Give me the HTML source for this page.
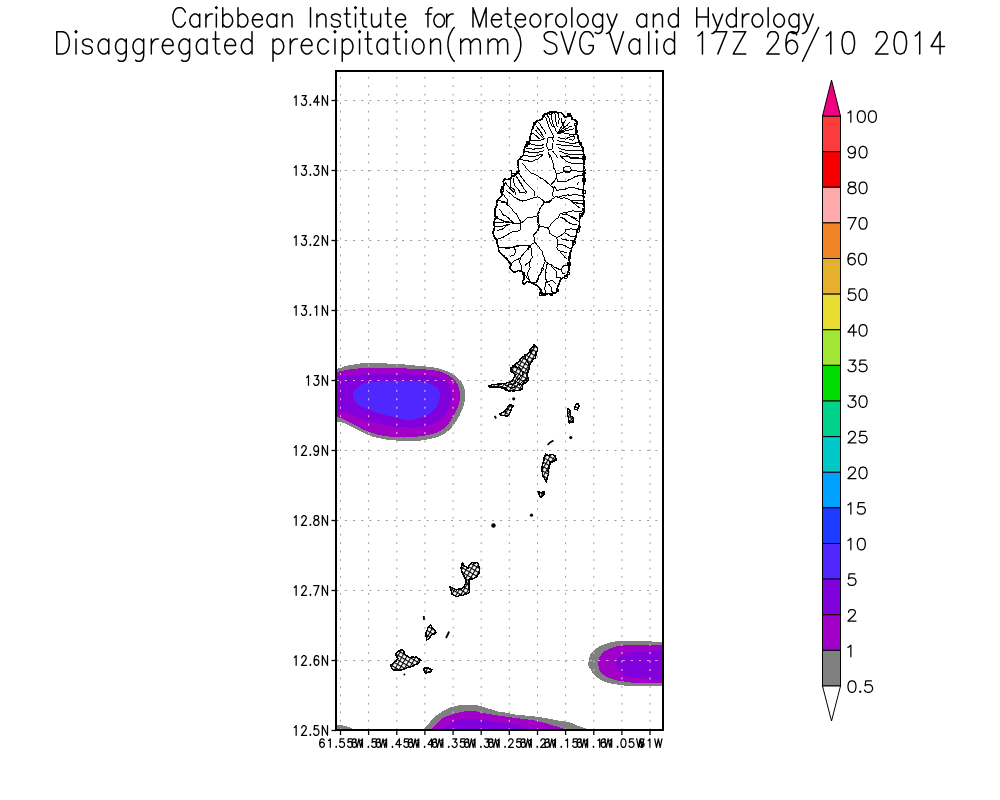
<!DOCTYPE html><html><head><meta charset="utf-8"><style>html,body{margin:0;padding:0;background:#fff;}svg{display:block;}text{font-family:"Liberation Sans",sans-serif;}</style></head><body>
<svg width="1000" height="800" viewBox="0 0 1000 800">
<rect width="1000" height="800" fill="#fff"/>
<defs><clipPath id="fr"><rect x="336" y="71" width="327" height="659"/></clipPath><clipPath id="shd" clip-path="url(#fr)"><path d="M326.0,369.0 C327.8,360.3 333.6,369.5 336.8,369.0 C340.0,368.5 341.9,367.0 345.2,366.2 C348.5,365.4 353.1,364.5 356.5,364.0 C359.9,363.5 360.8,363.2 365.5,363.1 C370.2,363.0 378.6,363.2 384.6,363.4 C390.6,363.6 396.2,363.8 401.5,364.2 C406.8,364.6 411.2,365.2 416.5,365.7 C421.8,366.2 428.7,366.6 433.4,367.4 C438.1,368.1 441.2,369.0 444.6,370.2 C448.0,371.4 451.0,372.9 453.6,374.7 C456.2,376.5 458.6,378.8 460.4,380.9 C462.2,383.0 463.5,385.2 464.3,387.6 C465.1,390.0 465.4,392.9 465.4,395.5 C465.4,398.1 464.9,400.8 464.3,403.4 C463.7,406.0 462.7,408.4 461.5,411.2 C460.3,414.0 458.9,417.2 457.0,420.2 C455.1,423.2 452.6,426.8 450.2,429.2 C447.8,431.6 445.2,433.4 442.4,434.9 C439.6,436.4 437.7,437.2 433.4,438.2 C429.1,439.2 421.8,440.6 416.5,441.0 C411.2,441.4 405.9,441.0 401.5,440.8 C397.1,440.6 393.9,440.4 390.2,440.0 C386.4,439.6 382.8,439.1 379.0,438.2 C375.2,437.3 371.4,436.4 367.7,434.9 C363.9,433.4 360.2,431.1 356.5,429.2 C352.8,427.3 348.5,424.9 345.2,423.6 C341.9,422.3 340.0,421.8 336.8,421.4 C333.6,421.0 327.8,429.7 326.0,421.0 C324.2,412.3 324.2,377.7 326.0,369.0Z"/><path d="M588.0,664.0 L590.0,655.0 L595.0,649.0 L602.0,645.0 L610.0,642.5 L617.0,641.2 L649.0,641.2 L662.0,642.5 L670.0,642.5 L670.0,686.0 L662.0,686.0 L629.0,686.2 L617.0,684.5 L608.0,683.0 L601.0,680.0 L594.0,675.0 L589.0,667.0Z"/><path d="M424.0,731.0 L424.0,729.0 L430.0,722.0 L435.0,716.5 L443.0,711.0 L450.0,707.5 L458.0,705.5 L466.0,704.5 L473.0,704.5 L480.0,706.0 L490.0,709.0 L500.0,712.0 L505.0,712.5 L515.0,714.5 L525.0,715.5 L535.0,716.5 L545.0,718.0 L555.0,720.0 L565.0,721.5 L570.0,722.5 L575.0,724.5 L581.0,727.0 L587.0,729.0 L588.0,731.0Z"/><path d="M336.0,724.5 L340.0,725.0 L345.0,726.0 L350.0,727.5 L354.0,729.5 L354.0,731.0 L336.0,731.0Z"/></clipPath><pattern id="spk" width="4" height="4" patternUnits="userSpaceOnUse" patternTransform="rotate(30)"><rect width="4" height="4" fill="#fff"/><rect x="0" y="0" width="4" height="1.1" fill="#000"/><rect x="0" y="0" width="1.1" height="4" fill="#000"/></pattern></defs>
<g clip-path="url(#fr)" shape-rendering="crispEdges">
<path d="M326.0,369.0 C327.8,360.3 333.6,369.5 336.8,369.0 C340.0,368.5 341.9,367.0 345.2,366.2 C348.5,365.4 353.1,364.5 356.5,364.0 C359.9,363.5 360.8,363.2 365.5,363.1 C370.2,363.0 378.6,363.2 384.6,363.4 C390.6,363.6 396.2,363.8 401.5,364.2 C406.8,364.6 411.2,365.2 416.5,365.7 C421.8,366.2 428.7,366.6 433.4,367.4 C438.1,368.1 441.2,369.0 444.6,370.2 C448.0,371.4 451.0,372.9 453.6,374.7 C456.2,376.5 458.6,378.8 460.4,380.9 C462.2,383.0 463.5,385.2 464.3,387.6 C465.1,390.0 465.4,392.9 465.4,395.5 C465.4,398.1 464.9,400.8 464.3,403.4 C463.7,406.0 462.7,408.4 461.5,411.2 C460.3,414.0 458.9,417.2 457.0,420.2 C455.1,423.2 452.6,426.8 450.2,429.2 C447.8,431.6 445.2,433.4 442.4,434.9 C439.6,436.4 437.7,437.2 433.4,438.2 C429.1,439.2 421.8,440.6 416.5,441.0 C411.2,441.4 405.9,441.0 401.5,440.8 C397.1,440.6 393.9,440.4 390.2,440.0 C386.4,439.6 382.8,439.1 379.0,438.2 C375.2,437.3 371.4,436.4 367.7,434.9 C363.9,433.4 360.2,431.1 356.5,429.2 C352.8,427.3 348.5,424.9 345.2,423.6 C341.9,422.3 340.0,421.8 336.8,421.4 C333.6,421.0 327.8,429.7 326.0,421.0 C324.2,412.3 324.2,377.7 326.0,369.0Z" fill="#808080"/>
<path d="M326.0,372.0 C327.9,364.6 333.2,372.4 337.4,371.9 C341.5,371.4 345.8,369.8 350.9,369.1 C355.9,368.5 362.1,368.2 367.7,368.0 C373.3,367.8 379.0,367.6 384.6,367.6 C390.2,367.7 394.3,368.0 401.5,368.3 C408.7,368.6 421.1,369.0 427.7,369.6 C434.3,370.2 437.4,370.8 441.2,371.9 C444.9,373.0 447.6,374.5 450.2,376.4 C452.8,378.3 455.4,380.5 457.0,383.1 C458.6,385.7 459.3,389.3 459.8,392.1 C460.3,394.9 460.3,397.2 459.8,400.0 C459.3,402.8 458.2,406.0 457.0,409.0 C455.8,412.0 454.4,415.0 452.5,418.0 C450.6,421.0 448.3,424.6 445.7,427.0 C443.1,429.4 440.6,431.1 436.7,432.6 C432.8,434.1 427.4,435.2 422.1,436.0 C416.9,436.8 410.5,437.4 405.2,437.5 C399.9,437.6 394.6,437.0 390.2,436.6 C385.8,436.2 382.8,435.8 379.0,434.9 C375.2,434.0 371.4,433.0 367.7,431.5 C363.9,430.0 360.2,427.8 356.5,425.9 C352.8,424.0 348.4,421.7 345.2,420.2 C342.0,418.7 340.6,417.5 337.4,416.9 C334.2,416.3 327.9,424.0 326.0,416.5 C324.1,409.0 324.1,379.4 326.0,372.0Z" fill="#a000c8"/>
<path d="M326.0,377.0 C328.3,371.2 334.3,376.4 340.0,376.0 C345.7,375.6 351.7,374.8 360.0,374.5 C368.3,374.2 380.0,374.0 390.0,374.0 C400.0,374.0 412.0,374.0 420.0,374.5 C428.0,375.0 433.5,375.8 438.0,377.0 C442.5,378.2 444.8,379.8 447.0,382.0 C449.2,384.2 450.7,387.3 451.5,390.0 C452.3,392.7 452.4,395.0 452.0,398.0 C451.6,401.0 450.5,404.8 449.0,408.0 C447.5,411.2 445.7,414.3 443.0,417.0 C440.3,419.7 437.2,422.2 433.0,424.0 C428.8,425.8 423.5,427.0 418.0,427.5 C412.5,428.0 405.8,427.4 400.0,427.0 C394.2,426.6 388.3,426.0 383.0,425.0 C377.7,424.0 372.7,422.5 368.0,421.0 C363.3,419.5 359.2,417.5 355.0,416.0 C350.8,414.5 347.8,412.8 343.0,412.0 C338.2,411.2 328.8,416.8 326.0,411.0 C323.2,405.2 323.7,382.8 326.0,377.0Z" fill="#8200dc"/>
<path d="M352.6,393.2 C352.6,390.8 354.9,390.2 356.5,388.7 C358.1,387.2 360.1,385.2 362.0,384.2 C363.9,383.2 364.7,383.0 367.7,382.6 C370.7,382.2 375.6,381.8 380.0,381.6 C384.4,381.4 387.3,381.4 394.0,381.4 C400.7,381.4 413.8,380.9 420.0,381.4 C426.2,381.9 428.0,383.0 431.0,384.2 C434.0,385.4 436.4,386.8 437.9,388.7 C439.4,390.6 440.2,392.5 440.0,395.5 C439.8,398.5 438.8,403.5 436.7,406.7 C434.6,409.9 431.1,412.5 427.7,414.6 C424.3,416.7 420.2,418.2 416.5,419.1 C412.8,420.0 409.6,420.2 405.2,419.7 C400.8,419.2 394.6,417.3 390.2,416.3 C385.8,415.3 382.8,414.7 379.0,413.5 C375.2,412.3 371.4,410.7 367.7,409.0 C363.9,407.3 359.0,406.0 356.5,403.4 C354.0,400.8 352.6,395.6 352.6,393.2Z" fill="#5028ff"/>
<path d="M588.0,664.0 L590.0,655.0 L595.0,649.0 L602.0,645.0 L610.0,642.5 L617.0,641.2 L649.0,641.2 L662.0,642.5 L670.0,642.5 L670.0,686.0 L662.0,686.0 L629.0,686.2 L617.0,684.5 L608.0,683.0 L601.0,680.0 L594.0,675.0 L589.0,667.0Z" fill="#808080"/>
<path d="M598.0,664.0 L599.0,658.0 L603.0,652.0 L610.0,648.5 L618.0,646.0 L627.0,645.0 L662.0,645.5 L670.0,645.5 L670.0,682.5 L662.0,682.5 L631.0,682.5 L617.0,680.5 L607.0,677.0 L600.0,672.0Z" fill="#a000c8"/>
<path d="M616.0,665.0 C615.8,662.5 617.0,659.0 619.0,657.0 C621.0,655.0 623.7,653.9 628.0,653.0 C632.3,652.1 638.0,651.8 645.0,651.5 C652.0,651.2 665.8,647.1 670.0,651.5 C674.2,655.9 674.2,673.5 670.0,678.0 C665.8,682.5 652.0,678.7 645.0,678.5 C638.0,678.3 632.2,678.1 628.0,677.0 C623.8,675.9 622.0,674.0 620.0,672.0 C618.0,670.0 616.2,667.5 616.0,665.0Z" fill="#8200dc"/>
<path d="M424.0,731.0 L424.0,729.0 L430.0,722.0 L435.0,716.5 L443.0,711.0 L450.0,707.5 L458.0,705.5 L466.0,704.5 L473.0,704.5 L480.0,706.0 L490.0,709.0 L500.0,712.0 L505.0,712.5 L515.0,714.5 L525.0,715.5 L535.0,716.5 L545.0,718.0 L555.0,720.0 L565.0,721.5 L570.0,722.5 L575.0,724.5 L581.0,727.0 L587.0,729.0 L588.0,731.0Z" fill="#808080"/>
<path d="M432.0,731.0 L432.0,729.0 L437.0,723.0 L443.0,718.0 L450.0,715.0 L459.0,712.5 L467.0,711.0 L475.0,711.0 L483.0,713.0 L495.0,715.0 L505.0,716.5 L515.0,718.0 L525.0,719.0 L535.0,720.5 L545.0,723.0 L555.0,726.0 L565.0,729.0 L566.0,731.0Z" fill="#a000c8"/>
<path d="M444.0,731.0 C429.8,730.0 447.8,726.8 450.0,725.0 C452.2,723.2 453.7,721.6 457.0,720.5 C460.3,719.4 465.3,718.6 470.0,718.5 C474.7,718.4 480.0,719.3 485.0,720.0 C490.0,720.7 495.0,721.8 500.0,722.5 C505.0,723.2 510.3,723.7 515.0,724.5 C519.7,725.3 524.7,726.4 528.0,727.5 C531.3,728.6 549.0,730.4 535.0,731.0 C521.0,731.6 458.2,732.0 444.0,731.0Z" fill="#8200dc"/>
<path d="M336.0,724.5 L340.0,725.0 L345.0,726.0 L350.0,727.5 L354.0,729.5 L354.0,731.0 L336.0,731.0Z" fill="#808080"/>
</g>
<g stroke="#9a9a9a" stroke-width="1" fill="none" clip-path="url(#fr)">
<line x1="340.5" y1="71" x2="340.5" y2="729" stroke-dasharray="1.8 6.66" stroke-dashoffset="-5.9"/>
<line x1="368.6" y1="71" x2="368.6" y2="729" stroke-dasharray="1.8 6.66" stroke-dashoffset="-5.9"/>
<line x1="396.8" y1="71" x2="396.8" y2="729" stroke-dasharray="1.8 6.66" stroke-dashoffset="-5.9"/>
<line x1="424.9" y1="71" x2="424.9" y2="729" stroke-dasharray="1.8 6.66" stroke-dashoffset="-5.9"/>
<line x1="453.1" y1="71" x2="453.1" y2="729" stroke-dasharray="1.8 6.66" stroke-dashoffset="-5.9"/>
<line x1="481.2" y1="71" x2="481.2" y2="729" stroke-dasharray="1.8 6.66" stroke-dashoffset="-5.9"/>
<line x1="509.3" y1="71" x2="509.3" y2="729" stroke-dasharray="1.8 6.66" stroke-dashoffset="-5.9"/>
<line x1="537.5" y1="71" x2="537.5" y2="729" stroke-dasharray="1.8 6.66" stroke-dashoffset="-5.9"/>
<line x1="565.6" y1="71" x2="565.6" y2="729" stroke-dasharray="1.8 6.66" stroke-dashoffset="-5.9"/>
<line x1="593.8" y1="71" x2="593.8" y2="729" stroke-dasharray="1.8 6.66" stroke-dashoffset="-5.9"/>
<line x1="621.9" y1="71" x2="621.9" y2="729" stroke-dasharray="1.8 6.66" stroke-dashoffset="-5.9"/>
<line x1="650.0" y1="71" x2="650.0" y2="729" stroke-dasharray="1.8 6.66" stroke-dashoffset="-5.9"/>
<line x1="336" y1="100.5" x2="662" y2="100.5" stroke-dasharray="2 6.17" stroke-dashoffset="-0.7"/>
<line x1="336" y1="170.5" x2="662" y2="170.5" stroke-dasharray="2 6.17" stroke-dashoffset="-0.7"/>
<line x1="336" y1="240.5" x2="662" y2="240.5" stroke-dasharray="2 6.17" stroke-dashoffset="-0.7"/>
<line x1="336" y1="310.5" x2="662" y2="310.5" stroke-dasharray="2 6.17" stroke-dashoffset="-0.7"/>
<line x1="336" y1="380.5" x2="662" y2="380.5" stroke-dasharray="2 6.17" stroke-dashoffset="-0.7"/>
<line x1="336" y1="450.5" x2="662" y2="450.5" stroke-dasharray="2 6.17" stroke-dashoffset="-0.7"/>
<line x1="336" y1="520.5" x2="662" y2="520.5" stroke-dasharray="2 6.17" stroke-dashoffset="-0.7"/>
<line x1="336" y1="590.5" x2="662" y2="590.5" stroke-dasharray="2 6.17" stroke-dashoffset="-0.7"/>
<line x1="336" y1="660.5" x2="662" y2="660.5" stroke-dasharray="2 6.17" stroke-dashoffset="-0.7"/>
</g>
<g stroke="#e8a0f0" stroke-width="1" fill="none" clip-path="url(#shd)">
<line x1="340.5" y1="71" x2="340.5" y2="729" stroke-dasharray="1.8 6.66" stroke-dashoffset="-5.9"/>
<line x1="368.6" y1="71" x2="368.6" y2="729" stroke-dasharray="1.8 6.66" stroke-dashoffset="-5.9"/>
<line x1="396.8" y1="71" x2="396.8" y2="729" stroke-dasharray="1.8 6.66" stroke-dashoffset="-5.9"/>
<line x1="424.9" y1="71" x2="424.9" y2="729" stroke-dasharray="1.8 6.66" stroke-dashoffset="-5.9"/>
<line x1="453.1" y1="71" x2="453.1" y2="729" stroke-dasharray="1.8 6.66" stroke-dashoffset="-5.9"/>
<line x1="481.2" y1="71" x2="481.2" y2="729" stroke-dasharray="1.8 6.66" stroke-dashoffset="-5.9"/>
<line x1="509.3" y1="71" x2="509.3" y2="729" stroke-dasharray="1.8 6.66" stroke-dashoffset="-5.9"/>
<line x1="537.5" y1="71" x2="537.5" y2="729" stroke-dasharray="1.8 6.66" stroke-dashoffset="-5.9"/>
<line x1="565.6" y1="71" x2="565.6" y2="729" stroke-dasharray="1.8 6.66" stroke-dashoffset="-5.9"/>
<line x1="593.8" y1="71" x2="593.8" y2="729" stroke-dasharray="1.8 6.66" stroke-dashoffset="-5.9"/>
<line x1="621.9" y1="71" x2="621.9" y2="729" stroke-dasharray="1.8 6.66" stroke-dashoffset="-5.9"/>
<line x1="650.0" y1="71" x2="650.0" y2="729" stroke-dasharray="1.8 6.66" stroke-dashoffset="-5.9"/>
<line x1="336" y1="100.5" x2="662" y2="100.5" stroke-dasharray="2 6.17" stroke-dashoffset="-0.7"/>
<line x1="336" y1="170.5" x2="662" y2="170.5" stroke-dasharray="2 6.17" stroke-dashoffset="-0.7"/>
<line x1="336" y1="240.5" x2="662" y2="240.5" stroke-dasharray="2 6.17" stroke-dashoffset="-0.7"/>
<line x1="336" y1="310.5" x2="662" y2="310.5" stroke-dasharray="2 6.17" stroke-dashoffset="-0.7"/>
<line x1="336" y1="380.5" x2="662" y2="380.5" stroke-dasharray="2 6.17" stroke-dashoffset="-0.7"/>
<line x1="336" y1="450.5" x2="662" y2="450.5" stroke-dasharray="2 6.17" stroke-dashoffset="-0.7"/>
<line x1="336" y1="520.5" x2="662" y2="520.5" stroke-dasharray="2 6.17" stroke-dashoffset="-0.7"/>
<line x1="336" y1="590.5" x2="662" y2="590.5" stroke-dasharray="2 6.17" stroke-dashoffset="-0.7"/>
<line x1="336" y1="660.5" x2="662" y2="660.5" stroke-dasharray="2 6.17" stroke-dashoffset="-0.7"/>
</g>
<g fill="none" stroke="#000" stroke-width="1" stroke-linejoin="round">
<g shape-rendering="crispEdges">
<path d="M543.6,114.6 L545.3,114.0 L546.7,113.7 L547.7,113.3 L549.3,112.8 L550.9,112.0 L553.7,111.7 L555.3,111.7 L557.6,112.8 L560.1,112.3 L561.7,113.0 L562.8,114.3 L563.4,115.2 L564.8,116.7 L566.0,117.5 L568.0,116.0 L569.4,114.5 L570.9,115.8 L571.7,117.6 L571.7,119.3 L573.4,119.4 L575.3,120.1 L576.0,121.2 L577.5,122.7 L576.5,124.7 L576.0,127.1 L575.9,129.8 L575.9,131.7 L576.3,133.4 L577.3,134.7 L577.8,135.9 L578.1,137.7 L578.4,139.0 L579.1,140.9 L579.7,142.5 L580.2,144.4 L581.7,146.6 L582.8,147.8 L583.0,150.0 L583.3,151.7 L583.6,153.0 L583.7,155.1 L583.9,156.2 L584.3,158.3 L583.9,159.7 L584.1,161.8 L584.2,163.6 L583.6,164.9 L583.7,166.8 L584.2,167.7 L583.5,169.3 L583.6,171.0 L583.9,172.3 L583.4,173.9 L583.7,175.6 L584.2,177.2 L583.8,178.6 L584.0,179.6 L584.2,181.8 L584.1,183.3 L583.7,184.4 L583.4,186.1 L583.4,187.1 L583.5,188.7 L583.7,190.1 L583.4,191.7 L583.4,193.4 L583.4,195.3 L583.9,196.4 L583.5,198.2 L583.6,199.7 L584.1,202.0 L583.9,203.1 L583.6,204.3 L584.0,206.0 L584.4,207.5 L583.7,209.8 L584.1,210.6 L584.1,212.1 L582.6,214.5 L581.3,215.8 L580.2,217.1 L579.5,219.0 L579.6,220.6 L579.3,221.6 L579.5,223.9 L579.4,225.3 L579.0,226.9 L578.1,228.3 L577.8,229.6 L576.8,231.5 L576.4,233.5 L576.4,235.0 L576.0,237.1 L575.6,238.2 L574.5,239.8 L573.9,241.4 L573.6,243.7 L573.2,245.0 L572.5,246.8 L571.4,248.3 L571.5,249.9 L570.8,251.2 L570.0,253.1 L569.8,254.6 L570.1,255.8 L569.3,257.9 L569.6,258.8 L569.1,260.3 L569.8,262.5 L569.1,264.0 L569.7,265.5 L568.9,266.9 L568.6,268.0 L569.2,270.1 L568.1,272.0 L567.4,273.5 L567.2,274.4 L566.0,276.1 L564.3,277.2 L562.7,277.8 L560.9,279.1 L560.2,280.6 L559.5,282.9 L558.7,284.5 L558.1,285.9 L557.5,287.1 L557.2,288.9 L556.7,291.1 L556.6,292.5 L555.4,293.0 L553.4,293.3 L551.9,294.0 L550.0,293.8 L548.6,293.5 L547.6,293.8 L545.9,294.0 L544.7,293.7 L542.9,293.8 L541.3,293.9 L541.2,291.9 L541.2,290.4 L540.2,289.1 L539.1,287.3 L537.6,286.6 L536.6,285.1 L534.7,284.5 L533.4,283.5 L531.5,283.0 L530.3,282.3 L527.2,281.4 L526.4,281.8 L525.3,283.3 L523.5,284.2 L522.4,281.2 L523.9,279.7 L524.1,277.4 L524.1,275.5 L523.5,273.6 L522.7,272.1 L521.3,271.2 L518.3,270.4 L517.0,271.3 L514.6,272.3 L513.7,271.7 L511.5,270.4 L510.5,269.0 L509.8,266.6 L510.6,265.7 L511.5,263.5 L509.7,262.9 L508.8,261.4 L507.1,259.3 L506.4,258.0 L504.6,257.3 L503.9,255.9 L502.1,254.7 L500.9,253.7 L500.0,252.2 L498.8,251.6 L498.5,249.0 L498.8,247.3 L497.8,245.3 L497.1,243.5 L497.0,242.0 L497.1,240.4 L495.7,238.8 L494.3,237.1 L493.5,235.2 L493.3,233.8 L493.1,231.9 L494.1,229.6 L494.4,228.1 L494.4,226.6 L494.0,224.4 L493.9,222.9 L494.2,221.1 L495.2,219.3 L495.5,217.4 L495.0,215.5 L494.8,214.4 L494.8,212.2 L494.6,210.6 L495.3,208.3 L496.7,206.0 L496.7,204.7 L496.6,203.1 L496.8,202.0 L497.4,200.0 L498.0,199.6 L499.3,198.2 L500.3,197.4 L501.7,195.6 L502.3,193.8 L501.9,192.0 L501.6,190.5 L501.9,188.6 L502.4,187.3 L503.3,186.0 L504.1,184.5 L503.8,183.2 L503.2,181.1 L504.9,179.1 L506.3,179.5 L507.2,179.7 L509.5,178.9 L511.0,178.4 L511.7,176.9 L513.3,175.9 L514.8,175.1 L515.8,174.3 L517.2,173.3 L518.0,171.8 L519.2,171.1 L518.5,169.7 L518.3,167.6 L518.4,166.1 L518.2,164.0 L518.2,163.0 L517.6,161.3 L519.0,159.6 L520.3,158.5 L521.2,156.9 L523.3,155.2 L523.6,154.1 L523.7,151.6 L524.1,150.0 L524.6,148.1 L525.5,146.4 L525.9,145.3 L527.4,144.1 L528.2,142.6 L528.7,141.5 L530.2,140.7 L530.2,138.8 L530.0,137.4 L530.6,134.6 L531.3,133.1 L531.7,132.1 L531.4,130.1 L532.8,129.0 L533.1,126.8 L533.5,125.9 L534.7,123.7 L535.6,122.4 L537.3,120.8 L538.7,120.4 L540.3,119.8 L542.3,119.0 L543.1,116.3Z" stroke-width="1.7"/>
<path d="M538.4,122.4 L539.8,123.8 L540.7,125.4 L541.9,127.2 L542.7,129.0 L544.4,130.4 L545.5,132.6 L546.2,134.2"/>
<path d="M536.5,126.0 L537.4,127.7 L539.1,129.4 L539.9,130.9 L540.9,132.3 L541.9,134.4 L543.1,136.1 L544.4,137.4"/>
<path d="M534.8,129.7 L536.6,131.2 L538.0,133.3 L540.0,134.8 L541.3,136.4 L542.6,137.6 L543.5,138.7 L544.4,140.5"/>
<path d="M532.7,133.0 L534.2,134.4 L535.4,135.2 L537.3,136.5 L538.5,137.9 L540.0,139.2"/>
<path d="M529.9,140.7 L532.3,140.3 L534.1,140.4 L536.0,140.4 L537.8,140.3 L539.8,140.8 L542.5,139.4 L545.0,138.6"/>
<path d="M528.4,143.9 L529.8,143.7 L531.4,144.1 L533.3,144.5 L535.0,145.0 L536.9,145.8 L539.4,145.2 L541.4,145.1 L543.8,144.9"/>
<path d="M524.9,147.9 L526.9,148.2 L529.7,148.4 L531.6,149.0 L534.0,149.1 L535.7,148.8 L537.9,148.7 L540.5,148.7 L542.5,147.9 L544.4,148.0"/>
<path d="M524.1,151.9 L526.5,152.0 L528.2,151.9 L529.9,152.8 L532.1,153.0 L534.1,152.8 L535.3,152.3 L537.3,152.3 L539.4,151.9 L541.0,151.5 L542.6,151.0 L544.4,150.5"/>
<path d="M522.8,155.7 L525.0,156.0 L527.5,155.9 L529.2,156.1 L531.7,156.6 L533.5,156.4 L535.5,156.3 L537.2,155.6 L539.1,154.9 L540.6,154.7 L542.5,154.2"/>
<path d="M548.4,137.5 L550.6,137.7 L552.3,137.8 L553.1,140.6 L553.0,142.7 L552.9,145.0 L552.6,146.6 L552.6,148.9 L550.4,149.2 L548.6,150.4 L548.0,148.6 L547.3,147.3 L546.3,145.3 L547.2,142.9 L547.7,140.3 L548.1,137.4"/>
<path d="M544.2,115.1 L545.1,117.1 L546.1,118.4 L546.7,120.4 L547.8,122.8 L548.2,124.5 L549.0,126.9 L549.7,128.3 L550.5,130.4 L551.9,132.6 L552.7,134.6 L553.8,137.4"/>
<path d="M547.8,113.5 L547.9,116.2 L548.9,117.9 L549.5,120.4 L550.3,122.5 L551.2,124.3 L552.5,126.8"/>
<path d="M551.1,112.9 L551.7,114.6 L551.9,116.5 L551.6,118.9 L552.1,120.5 L552.4,122.5 L553.4,124.8 L554.0,126.5 L555.3,128.3 L555.8,130.7 L556.9,132.0 L557.5,134.2"/>
<path d="M554.7,112.7 L555.4,115.0 L555.5,117.7 L555.3,119.4 L555.9,121.8 L556.4,124.4 L557.5,126.8"/>
<path d="M558.6,113.4 L558.4,115.8 L559.0,117.7 L559.1,119.3 L558.6,121.6 L558.8,123.6"/>
<path d="M562.2,117.7 L561.2,120.3 L562.0,122.6 L563.2,124.4 L563.8,126.8"/>
<path d="M557.7,133.2 L558.7,131.6 L559.6,129.8 L560.4,128.2 L561.7,126.5 L562.4,125.4 L563.4,123.3 L564.3,122.1 L565.6,120.5"/>
<path d="M557.4,133.3 L559.2,132.2 L560.1,130.4 L561.4,129.5 L563.2,128.3 L564.3,127.1 L565.9,126.1 L567.4,125.0 L568.7,123.3 L570.0,122.4"/>
<path d="M558.2,132.9 L559.7,132.1 L561.4,131.1 L562.7,130.3 L564.2,129.9 L566.1,128.7 L567.6,128.3 L569.3,127.0 L571.1,126.4 L572.5,125.5"/>
<path d="M558.3,133.2 L559.7,133.2 L561.7,132.7 L562.9,131.7 L564.7,131.1 L567.1,130.8 L568.8,130.1 L570.5,129.7 L571.8,129.3 L573.8,128.6"/>
<path d="M558.4,132.7 L560.1,133.1 L561.7,132.9 L563.5,132.8 L565.7,133.5 L568.0,133.6 L569.7,134.1 L572.0,134.2 L573.6,134.5 L575.6,134.9"/>
<path d="M557.7,137.4 L559.2,137.6 L561.5,138.4 L563.7,138.5 L565.4,139.4 L567.4,138.0 L569.2,137.5 L571.1,136.1 L573.0,136.2 L575.0,136.5"/>
<path d="M569.3,135.3 L571.9,134.3 L573.7,135.8 L574.7,137.8 L572.9,140.2 L570.9,139.8 L569.0,139.0"/>
<path d="M557.5,140.3 L559.2,141.0 L561.8,141.6 L563.5,141.8 L565.7,142.2 L567.7,142.4 L570.0,143.3 L571.9,143.0 L574.6,143.3 L576.4,142.7 L578.8,143.0"/>
<path d="M555.9,144.6 L557.6,144.2 L559.9,144.7 L561.9,145.1 L563.8,145.0 L565.8,145.3 L567.3,145.9 L569.4,145.6 L570.8,145.9 L572.8,146.0 L574.3,146.1 L576.6,146.7 L577.9,146.6 L580.0,146.8"/>
<path d="M557.7,147.7 L559.6,148.2 L561.3,149.0 L563.2,149.4 L565.0,150.1 L566.8,150.6 L568.8,150.5 L570.5,150.6 L572.7,150.3 L574.9,150.7 L576.6,150.3 L578.6,150.2 L580.3,150.5 L582.5,150.5"/>
<path d="M559.1,151.7 L561.3,151.9 L563.2,152.5 L565.2,153.4 L566.9,153.4 L568.8,154.2 L571.1,154.0 L573.1,154.6 L575.1,154.5 L576.7,154.6 L579.0,154.6 L581.3,154.0 L583.1,154.2"/>
<path d="M561.5,157.1 L562.9,156.8 L565.4,156.7 L567.5,156.9 L569.4,156.9 L571.1,157.6 L572.9,157.2 L575.1,157.4 L576.7,157.5 L578.8,158.1 L581.1,158.2 L583.0,158.1"/>
<path d="M552.3,150.7 L553.5,152.3 L555.1,153.9 L556.5,156.0 L557.5,158.0"/>
<path d="M548.8,152.0 L548.9,154.2 L549.7,155.8 L550.0,158.0"/>
<path d="M550.1,154.8 L551.1,157.1 L551.5,159.4 L552.4,161.0 L553.0,163.0 L553.4,165.2 L553.7,167.8 L554.5,169.3 L555.1,170.5 L555.8,172.3 L556.8,175.0 L556.1,177.8 L555.2,179.8 L554.4,181.1 L552.7,182.7 L551.5,184.1 L550.3,185.7 L553.1,187.3 L553.4,189.4 L553.3,191.6 L552.2,193.5 L553.0,195.7 L554.5,197.7 L552.5,198.6 L550.6,200.1 L549.3,201.1 L546.9,201.8 L544.6,202.7 L543.3,204.0 L541.6,205.9 L540.3,207.9 L539.3,210.2 L538.4,211.9 L538.2,213.5 L536.9,216.2"/>
<path d="M521.8,162.6 L523.3,164.2 L524.7,165.4 L525.6,167.0 L526.7,169.0 L529.1,170.8 L530.4,172.7 L532.7,173.4 L534.5,174.3 L536.0,175.0 L537.8,175.9 L539.4,177.4 L541.3,178.4 L542.8,178.9 L544.3,180.0 L546.0,181.4 L547.2,182.9 L549.3,184.0 L550.5,185.6"/>
<path d="M520.3,159.1 L521.6,159.5 L523.8,160.3 L525.5,160.2 L527.4,160.5 L528.8,161.2 L530.8,161.4 L532.7,161.0 L534.4,160.2 L536.3,159.6 L538.0,158.9 L539.7,157.4 L541.1,156.3 L543.0,155.0"/>
<path d="M518.0,172.8 L519.3,173.9 L520.5,176.3 L521.9,177.5 L522.9,179.2 L524.6,181.3 L526.3,183.1 L527.5,184.6 L529.4,186.5 L531.4,188.2 L532.5,189.8 L534.8,191.6 L534.2,193.5 L534.5,196.2"/>
<path d="M515.5,175.3 L517.1,177.5 L518.0,179.3 L519.1,180.6 L519.8,182.2 L521.4,184.0 L522.2,185.9 L523.2,187.6 L524.5,189.7 L525.7,191.1 L527.0,193.1"/>
<path d="M513.6,178.1 L514.0,180.2 L513.8,182.1 L514.6,184.4 L515.0,186.4 L516.4,187.6 L517.9,189.1 L519.1,190.7 L519.8,192.3 L522.4,193.0 L524.0,192.9 L526.4,193.1"/>
<path d="M510.7,179.0 L510.5,180.9 L510.6,183.4 L510.6,185.6 L510.6,187.3 L513.1,188.7 L514.8,190.1 L515.1,192.7 L515.8,195.0"/>
<path d="M504.6,181.5 L505.6,182.8 L506.5,184.5 L507.9,186.0 L509.4,187.5 L510.5,189.2 L512.6,190.9 L513.9,192.5"/>
<path d="M505.7,190.3 L507.2,191.2 L509.0,192.7 L510.7,193.9 L512.1,194.9 L513.5,196.5 L515.5,197.7 L516.8,198.7 L518.9,199.6 L520.1,200.4 L522.3,201.1 L523.7,200.6 L526.1,200.4 L527.7,199.4 L529.7,199.0 L531.8,198.3 L533.7,197.8 L536.1,197.7 L537.7,196.6 L539.3,197.6 L541.5,199.3 L542.9,200.4 L544.2,201.9"/>
<path d="M501.8,192.6 L502.8,193.8 L504.2,195.2 L505.3,197.2 L506.6,198.5 L507.7,200.0 L507.0,202.6 L507.0,205.0"/>
<path d="M496.9,200.2 L499.3,200.5 L501.1,201.2 L502.9,201.3 L505.2,202.3 L507.0,202.5"/>
<path d="M510.9,170.1 L511.6,172.6 L512.0,175.0"/>
<path d="M560.0,155.0 L561.3,156.7 L562.7,158.1 L564.7,159.8 L566.2,161.1 L568.2,162.1 L570.6,163.0 L572.7,163.4 L574.4,163.2 L576.9,163.0 L578.8,163.4 L580.6,163.1 L583.0,163.1"/>
<path d="M565.9,155.2 L568.6,156.6 L570.2,158.2 L572.6,158.3 L574.7,158.2 L577.0,158.1 L578.8,158.4 L580.7,158.2 L583.0,158.1"/>
<path d="M564.2,167.1 L566.5,166.9 L569.1,165.9 L570.3,167.8 L571.4,169.3 L570.8,171.1 L569.8,172.3 L567.2,172.7 L565.2,172.5 L563.4,169.6 L564.2,166.9"/>
<path d="M556.7,173.5 L558.6,173.3 L561.1,172.6 L563.0,171.9 L564.8,172.0 L566.9,171.5 L569.2,171.3 L571.0,170.7 L573.0,170.3 L575.2,170.8 L577.2,171.0 L578.9,171.2 L580.9,171.4 L583.0,171.9"/>
<path d="M555.8,175.8 L556.6,177.3 L557.2,179.4 L557.9,181.3 L560.1,181.2 L562.4,181.5 L563.8,181.5 L566.4,181.4 L567.6,180.7 L569.6,179.3 L570.9,179.2 L573.1,177.9 L574.6,177.0 L576.5,176.6 L578.5,175.4 L581.1,175.8 L583.0,175.6"/>
<path d="M554.0,186.5 L555.6,188.3 L556.9,190.3 L558.8,190.1 L560.3,189.8 L562.4,189.7 L564.2,189.7 L566.4,188.6 L568.2,187.9 L570.5,187.2 L572.6,187.5 L574.7,187.9 L576.8,188.4 L578.5,189.0 L580.9,189.4 L583.0,190.0"/>
<path d="M578.7,182.1 L577.6,183.7 L576.8,185.6"/>
<path d="M554.6,196.0 L556.5,196.2 L558.3,196.0 L560.9,196.1 L562.9,195.9 L565.1,195.4 L567.4,194.9 L569.4,195.1 L571.2,195.1 L573.3,194.6 L575.5,194.6 L577.2,194.8 L579.2,195.4 L581.4,195.6 L583.0,196.2"/>
<path d="M557.0,197.4 L558.6,197.5 L560.5,198.1 L562.5,198.1 L564.1,197.9 L566.0,198.2 L567.9,199.1 L569.2,199.8 L571.5,200.5 L572.7,201.1 L574.7,200.8 L577.3,200.8 L579.1,200.7 L581.3,200.3 L583.0,200.0"/>
<path d="M573.1,202.6 L575.1,202.9 L577.1,203.1 L579.1,203.6 L581.2,203.7 L583.0,204.4"/>
<path d="M543.3,202.2 L546.2,202.8 L548.6,202.4 L550.6,201.5 L552.2,200.0"/>
<path d="M570.4,199.8 L571.7,201.2 L573.2,202.5 L574.8,204.1 L576.1,205.2 L577.8,206.4 L579.8,208.1"/>
<path d="M573.7,202.6 L575.8,202.7 L577.2,202.9 L579.6,203.6 L581.8,203.5 L583.5,203.8"/>
<path d="M501.2,202.2 L503.2,202.5 L504.8,202.6 L506.6,203.2 L507.5,200.0"/>
<path d="M506.6,204.1 L507.9,205.4 L509.1,206.2 L510.8,207.8 L512.1,209.2 L513.0,211.1 L514.8,212.7 L516.3,213.8 L517.6,215.7 L518.4,217.8 L519.2,219.7 L520.5,220.9 L521.2,223.1"/>
<path d="M499.1,209.5 L501.1,211.0 L502.2,213.3 L503.5,215.3 L505.4,215.7 L507.0,217.1 L508.7,218.2 L510.2,220.0 L512.0,221.5 L513.8,223.1"/>
<path d="M496.3,217.4 L497.8,218.5 L499.9,219.4 L501.3,219.9 L503.4,221.0 L506.4,221.5 L507.9,221.8 L510.1,222.5 L511.6,222.6 L513.2,223.5 L514.9,223.9 L517.2,223.8 L519.4,223.2 L521.2,223.1"/>
<path d="M493.4,222.3 L495.9,222.4 L498.3,222.5 L500.0,222.3 L502.7,222.2 L504.4,221.9 L506.4,222.5 L508.0,222.5"/>
<path d="M494.5,226.5 L496.3,226.0 L498.5,226.5 L500.3,226.4 L502.8,226.1 L504.6,225.7 L506.5,224.8 L508.4,224.6 L510.6,223.8"/>
<path d="M496.5,231.2 L498.0,230.6 L500.6,229.4 L502.6,229.0 L504.4,227.5 L505.8,226.3 L507.5,225.0"/>
<path d="M497.3,239.2 L499.3,238.8 L501.5,237.9 L503.5,237.0 L505.4,235.9 L507.6,234.9 L508.7,233.8 L510.8,232.3 L512.5,232.0 L514.4,231.4 L515.9,231.7 L518.4,231.0 L520.0,230.4 L520.4,228.3 L520.7,226.2 L520.6,223.8"/>
<path d="M521.5,223.4 L523.0,221.5 L524.8,220.4 L527.2,217.8 L529.4,218.0 L531.2,217.7 L533.4,216.7 L535.1,216.5 L536.6,216.6 L538.0,214.1 L539.4,211.9"/>
<path d="M537.0,216.6 L537.3,218.4 L537.5,220.4 L538.1,223.2 L537.9,224.7 L538.3,227.1 L539.0,229.7 L537.3,230.7 L535.6,232.9 L533.9,234.7 L533.8,236.2 L534.6,238.8 L534.8,240.3 L535.1,242.7 L537.2,244.9 L538.3,246.2 L539.5,247.8 L540.3,249.3 L541.6,250.7 L542.7,252.3 L542.8,254.7 L543.6,256.6 L544.6,258.4 L544.7,260.0 L546.0,261.9 L547.7,263.2 L546.8,264.9 L546.5,266.9 L546.2,268.5 L545.8,270.3 L546.0,272.5 L545.5,274.6 L545.4,276.2 L545.6,278.2 L546.3,280.3 L546.0,282.5 L545.7,284.9 L545.1,287.0 L544.7,289.0 L545.4,291.0 L545.6,293.8"/>
<path d="M535.0,242.4 L532.6,243.5 L530.5,245.3 L529.1,245.4 L526.6,245.1 L525.3,245.1 L523.3,245.3 L521.6,245.3 L519.4,245.7 L516.8,245.7 L515.2,246.3 L512.7,247.0 L511.1,247.7 L508.8,248.5 L506.7,248.7 L505.2,248.0 L502.8,247.7 L501.3,247.7 L499.4,247.5"/>
<path d="M530.4,244.8 L529.6,246.8 L528.8,248.4 L527.5,250.0"/>
<path d="M537.7,213.4 L538.2,215.7 L538.4,217.5 L538.6,219.7 L538.7,222.2 L539.1,224.1 L540.0,226.9 L538.8,228.6 L537.0,230.9 L536.0,232.5"/>
<path d="M539.7,226.7 L542.2,226.3 L544.0,226.9 L546.4,227.5 L548.2,228.3 L549.3,230.9 L549.6,233.2 L551.4,234.4 L552.9,235.6 L555.2,236.4 L556.6,237.5 L557.3,240.3 L557.6,242.3 L557.0,244.1 L557.1,246.5 L556.9,247.8 L557.4,249.8 L558.9,250.7 L561.3,251.3 L563.5,251.6 L565.7,252.6 L567.5,253.1"/>
<path d="M548.2,227.8 L549.7,226.4 L550.8,224.4 L552.2,222.7 L553.6,221.5 L554.9,220.1 L557.0,218.5 L558.7,217.8 L559.0,215.6 L560.0,213.8 L561.6,213.6 L563.7,212.8 L565.2,212.4 L567.6,212.2 L570.2,211.5 L572.5,210.8 L573.8,210.9 L576.3,211.6 L577.7,211.5 L579.8,211.8 L581.6,211.9 L583.5,212.5"/>
<path d="M559.7,216.9 L561.6,217.6 L564.4,218.9 L565.8,220.1 L567.1,221.5 L568.6,222.2 L569.8,223.6 L572.2,224.0 L574.3,224.9 L576.6,225.0"/>
<path d="M562.3,214.2 L564.3,214.6 L566.7,214.7 L568.4,215.1 L570.3,216.0 L572.9,216.9 L574.4,217.8 L576.6,218.8"/>
<path d="M566.0,213.5 L567.3,214.4 L569.0,215.6 L570.5,216.4 L572.0,217.5 L574.1,218.5 L575.4,219.5 L576.7,220.5 L578.5,221.2"/>
<path d="M556.6,237.5 L558.9,236.5 L560.9,235.4 L562.7,234.1 L564.7,232.6 L565.7,229.9 L568.8,229.2 L571.0,228.7 L572.7,229.5 L574.6,229.8 L576.6,230.0"/>
<path d="M564.5,232.8 L567.1,234.1 L568.6,235.1 L571.0,236.4 L572.6,236.4 L574.8,236.9"/>
<path d="M561.3,238.9 L562.8,239.1 L565.1,239.7 L567.3,240.2 L569.6,240.0 L571.6,240.2 L573.5,240.0"/>
<path d="M557.4,244.4 L559.9,244.8 L562.5,244.7 L564.6,245.5 L566.6,246.7 L568.5,247.8 L571.6,248.8"/>
<path d="M498.8,247.4 L500.8,247.8 L502.6,247.4 L504.4,247.5 L506.4,247.4 L508.1,247.5 L509.9,247.4 L512.1,247.7 L513.7,247.5 L516.0,246.7 L518.8,246.2"/>
<path d="M513.5,247.6 L514.7,249.1 L515.9,251.1 L514.9,253.4 L514.1,254.8 L511.8,255.9 L510.0,256.2"/>
<path d="M529.1,245.9 L528.2,247.8 L527.2,249.6 L525.7,251.3 L524.4,252.5 L523.1,254.3 L521.4,256.3 L519.9,258.4 L518.0,259.2 L515.6,260.1 L513.7,261.3 L511.2,263.8"/>
<path d="M520.1,258.4 L520.0,260.3 L519.4,262.6 L520.7,263.9 L521.3,265.8 L521.2,267.4 L522.0,269.6 L521.9,271.2"/>
<path d="M530.6,246.0 L531.2,248.9 L531.5,251.6 L531.9,253.3 L531.8,255.3 L532.5,257.5 L531.0,259.2 L530.1,261.3 L528.2,263.0 L526.8,263.8 L525.0,265.6"/>
<path d="M529.9,261.5 L529.9,263.5 L529.7,265.3 L530.2,267.6 L529.3,269.4 L528.3,271.7 L527.3,273.9 L528.2,276.4 L528.8,278.3 L529.4,280.6"/>
<path d="M543.5,268.5 L542.9,270.0 L541.5,271.5 L540.8,273.5 L539.8,275.0 L538.4,275.9 L538.3,278.6 L537.7,281.1 L535.4,282.3 L533.8,283.8"/>
<path d="M524.1,274.0 L525.5,275.2 L526.5,276.8 L527.4,278.7 L528.8,280.0"/>
<path d="M547.6,263.4 L549.3,264.1 L551.1,264.7 L553.2,266.3 L554.5,267.3 L556.5,268.0 L558.8,269.1 L561.2,269.7 L562.3,267.4 L563.9,265.4 L565.5,265.6 L567.5,265.0"/>
<path d="M550.6,265.8 L551.8,266.9 L553.3,268.5 L555.2,270.2 L556.3,271.6 L556.5,273.7 L556.6,275.3 L556.6,277.7 L559.0,277.3 L561.2,277.5"/>
<path d="M544.8,261.7 L544.1,263.4 L543.6,265.5 L542.5,267.7 L541.7,269.2 L541.5,271.0 L540.3,273.4 L539.6,274.8 L538.3,277.0 L537.4,279.1 L536.7,280.9 L536.3,282.3 L534.1,282.2 L532.2,282.3 L530.0,282.5"/>
<path d="M546.5,282.6 L548.0,281.7 L550.1,281.0 L552.2,280.3 L554.1,282.2 L556.2,283.8"/>
<path d="M548.6,283.9 L549.7,285.5 L550.9,287.0 L551.8,288.5 L552.0,291.5 L552.5,293.8"/>
<path d="M559.9,251.4 L561.0,252.9 L562.4,254.4 L563.6,255.6 L564.9,257.3 L567.5,259.4"/>
<path d="M561.0,268.9 L561.7,271.2 L562.8,273.9 L565.0,273.8"/>
<path d="M549.2,111.1h3v3h-3zM567.4,113.9h3v3h-3zM574.7,123.7h2v2h-2zM575.7,130.8h2v2h-2zM579.4,142.7h2v2h-2zM582.4,156.2h3v3h-3zM583.0,168.9h2v2h-2zM583.1,171.9h2v2h-2zM582.5,173.5h2v2h-2zM582.8,178.7h3v3h-3zM582.8,190.6h3v3h-3zM582.6,208.2h2v2h-2zM579.3,213.7h3v3h-3zM578.0,226.3h2v2h-2zM576.2,229.0h3v3h-3zM572.4,241.0h3v3h-3zM568.0,256.7h2v2h-2zM567.7,262.2h3v3h-3zM567.1,272.4h2v2h-2zM564.3,275.0h3v3h-3zM556.4,289.5h2v2h-2zM550.3,293.1h2v2h-2zM543.3,293.3h2v2h-2zM539.4,292.6h3v3h-3zM522.7,272.7h2v2h-2zM495.2,216.6h2v2h-2zM500.0,189.3h3v3h-3zM501.4,186.6h2v2h-2zM511.5,173.6h3v3h-3zM516.0,171.8h2v2h-2zM525.8,144.8h2v2h-2zM526.1,141.9h3v3h-3zM533.7,122.4h2v2h-2z" stroke-width="1"/>
</g>
<g shape-rendering="crispEdges">
<path d="M534.2,344.5 L535.2,346.3 L537.1,347.7 L537.8,349.2 L537.0,351.9 L536.1,352.7 L536.0,355.3 L535.6,355.7 L535.6,358.4 L533.8,358.6 L532.4,360.4 L532.1,361.7 L531.0,362.3 L529.7,365.1 L529.7,366.7 L529.3,368.7 L527.7,370.6 L527.0,372.7 L526.7,374.4 L527.5,375.9 L527.8,377.4 L528.9,380.0 L527.4,380.6 L525.3,382.9 L523.3,383.4 L522.3,385.3 L522.5,387.1 L521.8,389.4 L519.8,390.0 L518.1,390.4 L516.4,390.3 L514.9,390.6 L513.1,391.3 L511.3,390.6 L509.5,391.6 L507.3,389.9 L505.7,390.1 L503.4,388.1 L502.2,388.3 L500.9,387.8 L499.6,387.4 L497.6,387.1 L494.9,387.0 L493.3,387.4 L491.6,387.0 L489.7,387.2 L488.6,385.5 L491.0,386.3 L491.8,384.7 L494.3,384.6 L496.2,384.7 L497.3,384.1 L499.1,383.9 L500.3,384.3 L501.8,383.8 L503.5,383.4 L505.8,383.4 L507.1,382.7 L509.4,382.3 L512.0,381.0 L512.8,379.6 L513.8,378.0 L514.6,375.8 L516.3,374.6 L514.0,373.9 L512.3,372.2 L510.6,371.4 L510.9,367.9 L512.2,367.7 L512.9,366.1 L514.6,365.9 L515.3,364.5 L517.1,362.9 L518.3,362.3 L519.0,361.1 L520.6,359.4 L522.6,357.0 L524.0,356.5 L525.0,354.2 L526.6,354.7 L528.3,353.7 L529.4,351.8 L530.2,349.4 L532.0,347.6 L532.9,347.3Z" stroke-width="1.5" fill="url(#spk)"/>
<path d="M523.8,356.3 L525.1,356.6 L525.0,359.1 L526.6,359.5 L527.2,361.3 L528.0,362.5 L528.4,365.2 L529.7,366.5 L529.0,367.7 L528.6,369.3 L528.3,371.4 L527.8,373.2 L527.9,374.0 L527.2,376.3 L527.6,377.8 L525.4,379.8 L525.2,380.7 L523.2,381.0 L522.0,382.1 L520.5,383.8 L519.9,385.1 L518.1,384.8 L516.9,386.2 L515.1,386.6 L513.6,387.7 L512.2,387.8 L510.0,388.0" stroke-width="1.1"/>
<path d="M514.5,365.1 L515.8,367.0 L517.1,367.1 L518.5,367.7 L520.7,368.5 L521.5,370.7 L522.3,371.2 L523.8,371.6 L522.5,372.8 L522.2,375.1 L521.2,375.5 L519.8,377.3 L518.6,378.9 L517.0,380.9 L515.4,382.0 L515.5,383.0 L513.5,384.2 L511.3,384.2 L510.3,384.3 L508.6,384.9 L506.7,385.7 L505.0,386.0" stroke-width="1.1"/>
<path d="M529.2,352.9 L530.5,352.1 L531.3,351.2 L533.0,350.0" stroke-width="1.1"/>
<path d="M499.7,386.6 L501.7,387.1 L503.5,387.5 L504.9,387.7 L507.0,389.0" stroke-width="1.1"/>
<path d="M510.0,404.5 L511.3,405.2 L513.3,405.5 L511.7,407.9 L511.0,409.4 L510.6,411.7 L510.0,412.9 L508.4,415.1 L507.8,415.8 L505.4,415.8 L503.7,415.7 L502.6,415.7 L500.6,415.1 L499.9,413.9 L501.8,412.6 L503.2,412.3 L505.1,410.9 L506.3,409.5 L507.5,407.6 L508.4,406.0Z" stroke-width="1.5" fill="url(#spk)"/>
<path d="M567.9,408.8 L569.8,410.1 L569.9,411.7 L570.8,413.9 L570.6,415.9 L572.5,417.1 L573.6,419.3 L572.9,420.5 L573.1,422.4 L571.0,422.2 L569.3,422.9 L569.1,421.0 L568.4,419.5 L568.3,417.4 L567.6,415.7 L567.8,413.5 L567.5,412.2Z" stroke-width="1.5" fill="url(#spk)"/>
<path d="M575.4,404.7 L578.3,403.4 L579.3,406.4 L578.0,408.0 L577.4,409.8 L574.5,409.1 L575.2,406.7Z" stroke-width="1.5" fill="url(#spk)"/>
<path d="M545.8,453.9 L548.0,455.9 L549.9,454.7 L552.0,454.3 L553.7,455.2 L554.9,455.5 L555.8,458.1 L556.6,460.3 L554.3,460.7 L552.6,462.3 L549.6,462.1 L549.9,464.4 L548.9,466.3 L549.2,468.0 L548.2,470.2 L548.3,472.1 L548.5,474.3 L548.0,475.6 L547.2,478.0 L546.5,480.5 L546.3,482.1 L545.5,480.6 L545.2,479.5 L544.0,477.9 L542.6,475.8 L542.4,474.3 L542.3,471.8 L541.6,469.6 L541.9,467.9 L542.2,466.0 L542.7,463.9 L543.3,461.7 L543.9,460.4 L543.6,458.5 L544.5,456.9Z" stroke-width="1.5" fill="url(#spk)"/>
<path d="M538.1,491.3 L540.8,492.8 L543.8,491.7 L543.8,494.6 L542.2,496.3 L540.9,497.6 L539.6,495.8 L539.1,494.0Z" stroke-width="1.5" fill="url(#spk)"/>
<path d="M462.5,562.6 L463.4,564.3 L465.0,566.4 L466.5,567.1 L468.0,568.1 L468.7,566.0 L470.3,564.3 L471.5,562.7 L472.3,562.4 L474.6,563.1 L475.9,562.6 L477.4,562.6 L478.6,563.8 L478.8,566.2 L479.5,568.2 L479.4,569.3 L479.3,571.0 L478.9,572.4 L478.8,574.2 L477.4,575.4 L476.0,577.6 L474.2,578.0 L472.5,578.9 L470.8,579.1 L469.0,579.3 L469.4,580.9 L469.2,582.2 L469.1,583.8 L469.0,586.3 L469.2,587.5 L468.8,588.9 L469.5,590.7 L469.8,591.9 L467.8,593.5 L466.3,593.9 L464.2,594.3 L462.7,595.4 L461.7,595.0 L460.1,595.0 L458.2,596.2 L456.3,596.5 L455.0,595.9 L453.4,595.0 L452.1,594.1 L451.5,592.4 L450.9,589.8 L450.6,588.0 L450.0,586.9 L451.6,587.4 L452.7,588.2 L454.4,589.1 L456.0,589.9 L457.9,589.4 L459.8,588.9 L461.0,589.4 L462.5,588.0 L464.4,586.3 L465.0,584.6 L466.0,582.7 L465.9,581.2 L465.8,579.3 L464.8,577.7 L464.0,575.9 L462.6,574.3 L462.2,572.4 L461.8,571.5 L461.7,569.9 L460.8,568.3 L461.6,566.6 L461.9,564.8Z" stroke-width="1.5" fill="url(#spk)"/>
<path d="M430.6,625.1 L431.5,626.2 L432.3,628.0 L433.7,629.5 L435.3,630.9 L436.2,632.6 L434.1,634.0 L432.2,634.2 L430.7,636.0 L430.3,636.8 L428.9,638.8 L426.6,640.0 L426.3,638.3 L426.2,636.0 L425.9,634.5 L426.0,632.5 L426.5,631.5 L427.6,629.3 L427.8,627.6 L429.1,626.1Z" stroke-width="1.5" fill="url(#spk)"/>
<path d="M402.6,649.7 L403.8,651.1 L403.8,652.5 L404.7,654.5 L406.3,655.3 L407.4,656.4 L409.6,657.6 L410.5,657.5 L412.4,657.0 L414.6,657.5 L416.0,656.9 L417.8,658.6 L419.5,659.2 L421.0,660.1 L419.7,661.1 L418.8,662.8 L417.8,663.6 L416.2,664.5 L414.6,664.7 L413.0,666.1 L410.7,666.8 L409.0,666.8 L407.6,667.4 L406.0,668.6 L404.6,668.9 L402.7,669.5 L401.4,669.9 L399.9,670.6 L397.8,669.7 L396.4,670.2 L394.5,669.8 L393.3,669.8 L391.3,667.4 L390.1,665.0 L392.2,664.3 L393.4,663.2 L394.4,661.9 L396.1,660.9 L398.0,658.7 L396.7,657.1 L396.4,655.6 L395.6,654.4 L396.3,653.0 L397.4,651.9 L399.2,650.6 L401.6,649.9Z" stroke-width="1.5" fill="url(#spk)"/>
<path d="M424.2,667.9 L426.4,668.1 L427.9,668.0 L430.2,669.0 L432.0,669.7 L430.3,672.2 L428.4,672.0 L426.3,672.9 L425.0,672.8 L423.8,669.9Z" stroke-width="1.5" fill="url(#spk)"/>
</g>
<path d="M547.6,445.0 L550.0,442.5 L553.5,440.5" stroke-width="1.8"/>
<path d="M446.0,638.0 L448.5,633.0 L449.0,631.5" stroke-width="1.8"/>
<path d="M423.7,616.0 L424.0,620.0" stroke-width="1.8"/>
<path d="M494.7,415.8 L496.0,418.5" stroke-width="1.8"/>
<circle cx="513.7" cy="398.8" r="1.6" fill="#000" stroke="none"/>
<circle cx="570.8" cy="437.6" r="1.6" fill="#000" stroke="none"/>
<circle cx="531.5" cy="515.2" r="1.6" fill="#000" stroke="none"/>
<circle cx="493.5" cy="525.5" r="2.2" fill="#000" stroke="none"/>
<circle cx="404.4" cy="674.4" r="1" fill="#000" stroke="none"/>
<circle cx="423.9" cy="617.5" r="0.8" fill="#000" stroke="none"/>
<circle cx="548.5" cy="472" r="1.0" fill="#000" stroke="none"/>
</g>
<rect x="336" y="71" width="327" height="659" fill="none" stroke="#000" stroke-width="2"/>
<g stroke="#000" stroke-width="1.3">
<line x1="331.5" y1="100.5" x2="336" y2="100.5"/>
<line x1="331.5" y1="170.5" x2="336" y2="170.5"/>
<line x1="331.5" y1="240.5" x2="336" y2="240.5"/>
<line x1="331.5" y1="310.5" x2="336" y2="310.5"/>
<line x1="331.5" y1="380.5" x2="336" y2="380.5"/>
<line x1="331.5" y1="450.5" x2="336" y2="450.5"/>
<line x1="331.5" y1="520.5" x2="336" y2="520.5"/>
<line x1="331.5" y1="590.5" x2="336" y2="590.5"/>
<line x1="331.5" y1="660.5" x2="336" y2="660.5"/>
<line x1="331.5" y1="730.5" x2="336" y2="730.5"/>
<line x1="340.5" y1="730" x2="340.5" y2="735"/>
<line x1="368.6" y1="730" x2="368.6" y2="735"/>
<line x1="396.8" y1="730" x2="396.8" y2="735"/>
<line x1="424.9" y1="730" x2="424.9" y2="735"/>
<line x1="453.1" y1="730" x2="453.1" y2="735"/>
<line x1="481.2" y1="730" x2="481.2" y2="735"/>
<line x1="509.3" y1="730" x2="509.3" y2="735"/>
<line x1="537.5" y1="730" x2="537.5" y2="735"/>
<line x1="565.6" y1="730" x2="565.6" y2="735"/>
<line x1="593.8" y1="730" x2="593.8" y2="735"/>
<line x1="621.9" y1="730" x2="621.9" y2="735"/>
<line x1="650.0" y1="730" x2="650.0" y2="735"/>
</g>
<path d="M294.31,97.53 295.05,97.07 296.16,95.70 296.16,105.30M302.15,95.70 306.22,95.70 304.00,99.36 305.11,99.36 305.85,99.82 306.22,100.27 306.59,101.64 306.59,102.56 306.22,103.93 305.48,104.84 304.38,105.30 303.26,105.30 302.15,104.84 301.78,104.39 301.41,103.47M310.37,104.39 310.00,104.84 310.37,105.30 310.74,104.84 310.37,104.39M317.44,95.70 313.74,102.10 319.29,102.10M317.44,95.70 317.44,105.30M322.32,95.70 322.32,105.30M322.32,95.70 327.50,105.30M327.50,95.70 327.50,105.30M294.31,167.53 295.05,167.07 296.16,165.70 296.16,175.30M302.15,165.70 306.22,165.70 304.00,169.36 305.11,169.36 305.85,169.82 306.22,170.27 306.59,171.64 306.59,172.56 306.22,173.93 305.48,174.84 304.38,175.30 303.26,175.30 302.15,174.84 301.78,174.39 301.41,173.47M310.37,174.39 310.00,174.84 310.37,175.30 310.74,174.84 310.37,174.39M314.48,165.70 318.55,165.70 316.33,169.36 317.44,169.36 318.18,169.82 318.55,170.27 318.92,171.64 318.92,172.56 318.55,173.93 317.81,174.84 316.70,175.30 315.59,175.30 314.48,174.84 314.11,174.39 313.74,173.47M322.32,165.70 322.32,175.30M322.32,165.70 327.50,175.30M327.50,165.70 327.50,175.30M294.31,237.53 295.05,237.07 296.16,235.70 296.16,245.30M302.15,235.70 306.22,235.70 304.00,239.36 305.11,239.36 305.85,239.82 306.22,240.27 306.59,241.64 306.59,242.56 306.22,243.93 305.48,244.84 304.38,245.30 303.26,245.30 302.15,244.84 301.78,244.39 301.41,243.47M310.37,244.39 310.00,244.84 310.37,245.30 310.74,244.84 310.37,244.39M314.11,237.99 314.11,237.53 314.48,236.62 314.85,236.16 315.59,235.70 317.07,235.70 317.81,236.16 318.18,236.62 318.55,237.53 318.55,238.45 318.18,239.36 317.44,240.73 313.74,245.30 318.92,245.30M322.32,235.70 322.32,245.30M322.32,235.70 327.50,245.30M327.50,235.70 327.50,245.30M294.31,307.53 295.05,307.07 296.16,305.70 296.16,315.30M302.15,305.70 306.22,305.70 304.00,309.36 305.11,309.36 305.85,309.82 306.22,310.27 306.59,311.64 306.59,312.56 306.22,313.93 305.48,314.84 304.38,315.30 303.26,315.30 302.15,314.84 301.78,314.39 301.41,313.47M310.37,314.39 310.00,314.84 310.37,315.30 310.74,314.84 310.37,314.39M314.85,307.53 315.59,307.07 316.70,305.70 316.70,315.30M322.32,305.70 322.32,315.30M322.32,305.70 327.50,315.30M327.50,305.70 327.50,315.30M306.63,377.53 307.37,377.07 308.48,375.70 308.48,385.30M314.48,375.70 318.55,375.70 316.33,379.36 317.44,379.36 318.18,379.82 318.55,380.27 318.92,381.64 318.92,382.56 318.55,383.93 317.81,384.84 316.70,385.30 315.59,385.30 314.48,384.84 314.11,384.39 313.74,383.47M322.32,375.70 322.32,385.30M322.32,375.70 327.50,385.30M327.50,375.70 327.50,385.30M294.31,447.53 295.05,447.07 296.16,445.70 296.16,455.30M301.78,447.99 301.78,447.53 302.15,446.62 302.52,446.16 303.26,445.70 304.75,445.70 305.48,446.16 305.85,446.62 306.22,447.53 306.22,448.44 305.85,449.36 305.11,450.73 301.41,455.30 306.59,455.30M310.37,454.39 310.00,454.84 310.37,455.30 310.74,454.84 310.37,454.39M318.55,448.90 318.18,450.27 317.44,451.19 316.33,451.64 315.96,451.64 314.85,451.19 314.11,450.27 313.74,448.90 313.74,448.44 314.11,447.07 314.85,446.16 315.96,445.70 316.33,445.70 317.44,446.16 318.18,447.07 318.55,448.90 318.55,451.19 318.18,453.47 317.44,454.84 316.33,455.30 315.59,455.30 314.48,454.84 314.11,453.93M322.32,445.70 322.32,455.30M322.32,445.70 327.50,455.30M327.50,445.70 327.50,455.30M294.31,517.53 295.05,517.07 296.16,515.70 296.16,525.30M301.78,517.99 301.78,517.53 302.15,516.62 302.52,516.16 303.26,515.70 304.75,515.70 305.48,516.16 305.85,516.62 306.22,517.53 306.22,518.44 305.85,519.36 305.11,520.73 301.41,525.30 306.59,525.30M310.37,524.39 310.00,524.84 310.37,525.30 310.74,524.84 310.37,524.39M315.59,515.70 314.48,516.16 314.11,517.07 314.11,517.99 314.48,518.90 315.22,519.36 316.70,519.82 317.81,520.27 318.55,521.19 318.92,522.10 318.92,523.47 318.55,524.39 318.18,524.84 317.07,525.30 315.59,525.30 314.48,524.84 314.11,524.39 313.74,523.47 313.74,522.10 314.11,521.19 314.85,520.27 315.96,519.82 317.44,519.36 318.18,518.90 318.55,517.99 318.55,517.07 318.18,516.16 317.07,515.70 315.59,515.70M322.32,515.70 322.32,525.30M322.32,515.70 327.50,525.30M327.50,515.70 327.50,525.30M294.31,587.53 295.05,587.07 296.16,585.70 296.16,595.30M301.78,587.99 301.78,587.53 302.15,586.62 302.52,586.16 303.26,585.70 304.75,585.70 305.48,586.16 305.85,586.62 306.22,587.53 306.22,588.44 305.85,589.36 305.11,590.73 301.41,595.30 306.59,595.30M310.37,594.39 310.00,594.84 310.37,595.30 310.74,594.84 310.37,594.39M318.92,585.70 315.22,595.30M313.74,585.70 318.92,585.70M322.32,585.70 322.32,595.30M322.32,585.70 327.50,595.30M327.50,585.70 327.50,595.30M294.31,657.53 295.05,657.07 296.16,655.70 296.16,665.30M301.78,657.99 301.78,657.53 302.15,656.62 302.52,656.16 303.26,655.70 304.75,655.70 305.48,656.16 305.85,656.62 306.22,657.53 306.22,658.44 305.85,659.36 305.11,660.73 301.41,665.30 306.59,665.30M310.37,664.39 310.00,664.84 310.37,665.30 310.74,664.84 310.37,664.39M318.55,657.07 318.18,656.16 317.07,655.70 316.33,655.70 315.22,656.16 314.48,657.53 314.11,659.82 314.11,662.10 314.48,663.93 315.22,664.84 316.33,665.30 316.70,665.30 317.81,664.84 318.55,663.93 318.92,662.56 318.92,662.10 318.55,660.73 317.81,659.82 316.70,659.36 316.33,659.36 315.22,659.82 314.48,660.73 314.11,662.10M322.32,655.70 322.32,665.30M322.32,655.70 327.50,665.30M327.50,655.70 327.50,665.30M294.31,727.53 295.05,727.07 296.16,725.70 296.16,735.30M301.78,727.99 301.78,727.53 302.15,726.62 302.52,726.16 303.26,725.70 304.75,725.70 305.48,726.16 305.85,726.62 306.22,727.53 306.22,728.44 305.85,729.36 305.11,730.73 301.41,735.30 306.59,735.30M310.37,734.39 310.00,734.84 310.37,735.30 310.74,734.84 310.37,734.39M318.18,725.70 314.48,725.70 314.11,729.82 314.48,729.36 315.59,728.90 316.70,728.90 317.81,729.36 318.55,730.27 318.92,731.64 318.92,732.56 318.55,733.93 317.81,734.84 316.70,735.30 315.59,735.30 314.48,734.84 314.11,734.39 313.74,733.47M322.32,725.70 322.32,735.30M322.32,725.70 327.50,735.30M327.50,725.70 327.50,735.30M324.04,740.10 323.68,739.30 322.60,738.90 321.88,738.90 320.80,739.30 320.08,740.50 319.72,742.50 319.72,744.50 320.08,746.10 320.80,746.90 321.88,747.30 322.24,747.30 323.32,746.90 324.04,746.10 324.40,744.90 324.40,744.50 324.04,743.30 323.32,742.50 322.24,742.10 321.88,742.10 320.80,742.50 320.08,743.30 319.72,744.50M328.50,740.50 329.22,740.10 330.30,738.90 330.30,747.30M336.20,746.50 335.84,746.90 336.20,747.30 336.56,746.90 336.20,746.50M343.84,738.90 340.24,738.90 339.88,742.50 340.24,742.10 341.32,741.70 342.40,741.70 343.48,742.10 344.20,742.90 344.56,744.10 344.56,744.90 344.20,746.10 343.48,746.90 342.40,747.30 341.32,747.30 340.24,746.90 339.88,746.50 339.52,745.70M351.90,738.90 348.30,738.90 347.94,742.50 348.30,742.10 349.38,741.70 350.46,741.70 351.54,742.10 352.26,742.90 352.62,744.10 352.62,744.90 352.26,746.10 351.54,746.90 350.46,747.30 349.38,747.30 348.30,746.90 347.94,746.50 347.58,745.70M355.28,738.90 357.08,747.30M358.88,738.90 357.08,747.30M358.88,738.90 360.68,747.30M362.48,738.90 360.68,747.30M356.21,740.10 355.85,739.30 354.77,738.90 354.05,738.90 352.97,739.30 352.25,740.50 351.89,742.50 351.89,744.50 352.25,746.10 352.97,746.90 354.05,747.30 354.41,747.30 355.49,746.90 356.21,746.10 356.57,744.90 356.57,744.50 356.21,743.30 355.49,742.50 354.41,742.10 354.05,742.10 352.97,742.50 352.25,743.30 351.89,744.50M360.67,740.50 361.39,740.10 362.47,738.90 362.47,747.30M368.38,746.50 368.02,746.90 368.38,747.30 368.74,746.90 368.38,746.50M376.01,738.90 372.41,738.90 372.05,742.50 372.41,742.10 373.49,741.70 374.57,741.70 375.65,742.10 376.37,742.90 376.73,744.10 376.73,744.90 376.37,746.10 375.65,746.90 374.57,747.30 373.49,747.30 372.41,746.90 372.05,746.50 371.69,745.70M379.39,738.90 381.19,747.30M382.99,738.90 381.19,747.30M382.99,738.90 384.79,747.30M386.59,738.90 384.79,747.30M380.32,740.10 379.96,739.30 378.88,738.90 378.16,738.90 377.08,739.30 376.36,740.50 376.00,742.50 376.00,744.50 376.36,746.10 377.08,746.90 378.16,747.30 378.52,747.30 379.60,746.90 380.32,746.10 380.68,744.90 380.68,744.50 380.32,743.30 379.60,742.50 378.52,742.10 378.16,742.10 377.08,742.50 376.36,743.30 376.00,744.50M384.78,740.50 385.50,740.10 386.58,738.90 386.58,747.30M392.48,746.50 392.12,746.90 392.48,747.30 392.84,746.90 392.48,746.50M399.40,738.90 395.80,744.50 401.20,744.50M399.40,738.90 399.40,747.30M408.18,738.90 404.58,738.90 404.22,742.50 404.58,742.10 405.66,741.70 406.74,741.70 407.82,742.10 408.54,742.90 408.90,744.10 408.90,744.90 408.54,746.10 407.82,746.90 406.74,747.30 405.66,747.30 404.58,746.90 404.22,746.50 403.86,745.70M411.56,738.90 413.36,747.30M415.16,738.90 413.36,747.30M415.16,738.90 416.96,747.30M418.76,738.90 416.96,747.30M412.49,740.10 412.13,739.30 411.05,738.90 410.33,738.90 409.25,739.30 408.53,740.50 408.17,742.50 408.17,744.50 408.53,746.10 409.25,746.90 410.33,747.30 410.69,747.30 411.77,746.90 412.49,746.10 412.85,744.90 412.85,744.50 412.49,743.30 411.77,742.50 410.69,742.10 410.33,742.10 409.25,742.50 408.53,743.30 408.17,744.50M416.95,740.50 417.67,740.10 418.75,738.90 418.75,747.30M424.66,746.50 424.30,746.90 424.66,747.30 425.02,746.90 424.66,746.50M431.57,738.90 427.97,744.50 433.37,744.50M431.57,738.90 431.57,747.30M435.67,738.90 437.47,747.30M439.27,738.90 437.47,747.30M439.27,738.90 441.07,747.30M442.87,738.90 441.07,747.30M436.60,740.10 436.24,739.30 435.16,738.90 434.44,738.90 433.36,739.30 432.64,740.50 432.28,742.50 432.28,744.50 432.64,746.10 433.36,746.90 434.44,747.30 434.80,747.30 435.88,746.90 436.60,746.10 436.96,744.90 436.96,744.50 436.60,743.30 435.88,742.50 434.80,742.10 434.44,742.10 433.36,742.50 432.64,743.30 432.28,744.50M441.06,740.50 441.78,740.10 442.86,738.90 442.86,747.30M448.76,746.50 448.40,746.90 448.76,747.30 449.12,746.90 448.76,746.50M452.80,738.90 456.76,738.90 454.60,742.10 455.68,742.10 456.40,742.50 456.76,742.90 457.12,744.10 457.12,744.90 456.76,746.10 456.04,746.90 454.96,747.30 453.88,747.30 452.80,746.90 452.44,746.50 452.08,745.70M464.46,738.90 460.86,738.90 460.50,742.50 460.86,742.10 461.94,741.70 463.02,741.70 464.10,742.10 464.82,742.90 465.18,744.10 465.18,744.90 464.82,746.10 464.10,746.90 463.02,747.30 461.94,747.30 460.86,746.90 460.50,746.50 460.14,745.70M467.84,738.90 469.64,747.30M471.44,738.90 469.64,747.30M471.44,738.90 473.24,747.30M475.04,738.90 473.24,747.30M468.77,740.10 468.41,739.30 467.33,738.90 466.61,738.90 465.53,739.30 464.81,740.50 464.45,742.50 464.45,744.50 464.81,746.10 465.53,746.90 466.61,747.30 466.97,747.30 468.05,746.90 468.77,746.10 469.13,744.90 469.13,744.50 468.77,743.30 468.05,742.50 466.97,742.10 466.61,742.10 465.53,742.50 464.81,743.30 464.45,744.50M473.23,740.50 473.95,740.10 475.03,738.90 475.03,747.30M480.94,746.50 480.58,746.90 480.94,747.30 481.30,746.90 480.94,746.50M484.97,738.90 488.93,738.90 486.77,742.10 487.85,742.10 488.57,742.50 488.93,742.90 489.29,744.10 489.29,744.90 488.93,746.10 488.21,746.90 487.13,747.30 486.05,747.30 484.97,746.90 484.61,746.50 484.25,745.70M491.95,738.90 493.75,747.30M495.55,738.90 493.75,747.30M495.55,738.90 497.35,747.30M499.15,738.90 497.35,747.30M492.88,740.10 492.52,739.30 491.44,738.90 490.72,738.90 489.64,739.30 488.92,740.50 488.56,742.50 488.56,744.50 488.92,746.10 489.64,746.90 490.72,747.30 491.08,747.30 492.16,746.90 492.88,746.10 493.24,744.90 493.24,744.50 492.88,743.30 492.16,742.50 491.08,742.10 490.72,742.10 489.64,742.50 488.92,743.30 488.56,744.50M497.34,740.50 498.06,740.10 499.14,738.90 499.14,747.30M505.04,746.50 504.68,746.90 505.04,747.30 505.40,746.90 505.04,746.50M508.72,740.90 508.72,740.50 509.08,739.70 509.44,739.30 510.16,738.90 511.60,738.90 512.32,739.30 512.68,739.70 513.04,740.50 513.04,741.30 512.68,742.10 511.96,743.30 508.36,747.30 513.40,747.30M520.74,738.90 517.14,738.90 516.78,742.50 517.14,742.10 518.22,741.70 519.30,741.70 520.38,742.10 521.10,742.90 521.46,744.10 521.46,744.90 521.10,746.10 520.38,746.90 519.30,747.30 518.22,747.30 517.14,746.90 516.78,746.50 516.42,745.70M524.12,738.90 525.92,747.30M527.72,738.90 525.92,747.30M527.72,738.90 529.52,747.30M531.32,738.90 529.52,747.30M525.05,740.10 524.69,739.30 523.61,738.90 522.89,738.90 521.81,739.30 521.09,740.50 520.73,742.50 520.73,744.50 521.09,746.10 521.81,746.90 522.89,747.30 523.25,747.30 524.33,746.90 525.05,746.10 525.41,744.90 525.41,744.50 525.05,743.30 524.33,742.50 523.25,742.10 522.89,742.10 521.81,742.50 521.09,743.30 520.73,744.50M529.51,740.50 530.23,740.10 531.31,738.90 531.31,747.30M537.22,746.50 536.86,746.90 537.22,747.30 537.58,746.90 537.22,746.50M540.89,740.90 540.89,740.50 541.25,739.70 541.61,739.30 542.33,738.90 543.77,738.90 544.49,739.30 544.85,739.70 545.21,740.50 545.21,741.30 544.85,742.10 544.13,743.30 540.53,747.30 545.57,747.30M548.23,738.90 550.03,747.30M551.83,738.90 550.03,747.30M551.83,738.90 553.63,747.30M555.43,738.90 553.63,747.30M549.16,740.10 548.80,739.30 547.72,738.90 547.00,738.90 545.92,739.30 545.20,740.50 544.84,742.50 544.84,744.50 545.20,746.10 545.92,746.90 547.00,747.30 547.36,747.30 548.44,746.90 549.16,746.10 549.52,744.90 549.52,744.50 549.16,743.30 548.44,742.50 547.36,742.10 547.00,742.10 545.92,742.50 545.20,743.30 544.84,744.50M553.62,740.50 554.34,740.10 555.42,738.90 555.42,747.30M561.32,746.50 560.96,746.90 561.32,747.30 561.68,746.90 561.32,746.50M565.72,740.50 566.44,740.10 567.52,738.90 567.52,747.30M577.02,738.90 573.42,738.90 573.06,742.50 573.42,742.10 574.50,741.70 575.58,741.70 576.66,742.10 577.38,742.90 577.74,744.10 577.74,744.90 577.38,746.10 576.66,746.90 575.58,747.30 574.50,747.30 573.42,746.90 573.06,746.50 572.70,745.70M580.40,738.90 582.20,747.30M584.00,738.90 582.20,747.30M584.00,738.90 585.80,747.30M587.60,738.90 585.80,747.30M581.33,740.10 580.97,739.30 579.89,738.90 579.17,738.90 578.09,739.30 577.37,740.50 577.01,742.50 577.01,744.50 577.37,746.10 578.09,746.90 579.17,747.30 579.53,747.30 580.61,746.90 581.33,746.10 581.69,744.90 581.69,744.50 581.33,743.30 580.61,742.50 579.53,742.10 579.17,742.10 578.09,742.50 577.37,743.30 577.01,744.50M585.79,740.50 586.51,740.10 587.59,738.90 587.59,747.30M593.50,746.50 593.14,746.90 593.50,747.30 593.86,746.90 593.50,746.50M597.89,740.50 598.61,740.10 599.69,738.90 599.69,747.30M604.51,738.90 606.31,747.30M608.11,738.90 606.31,747.30M608.11,738.90 609.91,747.30M611.71,738.90 609.91,747.30M605.44,740.10 605.08,739.30 604.00,738.90 603.28,738.90 602.20,739.30 601.48,740.50 601.12,742.50 601.12,744.50 601.48,746.10 602.20,746.90 603.28,747.30 603.64,747.30 604.72,746.90 605.44,746.10 605.80,744.90 605.80,744.50 605.44,743.30 604.72,742.50 603.64,742.10 603.28,742.10 602.20,742.50 601.48,743.30 601.12,744.50M609.90,740.50 610.62,740.10 611.70,738.90 611.70,747.30M617.60,746.50 617.24,746.90 617.60,747.30 617.96,746.90 617.60,746.50M623.08,738.90 622.00,739.30 621.28,740.50 620.92,742.50 620.92,743.70 621.28,745.70 622.00,746.90 623.08,747.30 623.80,747.30 624.88,746.90 625.60,745.70 625.96,743.70 625.96,742.50 625.60,740.50 624.88,739.30 623.80,738.90 623.08,738.90M633.30,738.90 629.70,738.90 629.34,742.50 629.70,742.10 630.78,741.70 631.86,741.70 632.94,742.10 633.66,742.90 634.02,744.10 634.02,744.90 633.66,746.10 632.94,746.90 631.86,747.30 630.78,747.30 629.70,746.90 629.34,746.50 628.98,745.70M636.68,738.90 638.48,747.30M640.28,738.90 638.48,747.30M640.28,738.90 642.08,747.30M643.88,738.90 642.08,747.30M643.66,740.10 643.30,739.30 642.22,738.90 641.50,738.90 640.42,739.30 639.70,740.50 639.34,742.50 639.34,744.50 639.70,746.10 640.42,746.90 641.50,747.30 641.86,747.30 642.94,746.90 643.66,746.10 644.02,744.90 644.02,744.50 643.66,743.30 642.94,742.50 641.86,742.10 641.50,742.10 640.42,742.50 639.70,743.30 639.34,744.50M648.12,740.50 648.84,740.10 649.92,738.90 649.92,747.30M654.74,738.90 656.54,747.30M658.34,738.90 656.54,747.30M658.34,738.90 660.14,747.30M661.94,738.90 660.14,747.30" fill="none" stroke="#000" stroke-width="1.25" stroke-linecap="round" stroke-linejoin="round" shape-rendering="auto"/>
<path d="M185.30,12.28 184.48,10.44 182.84,8.60 181.20,7.68 177.92,7.68 176.28,8.60 174.64,10.44 173.82,12.28 173.00,15.04 173.00,19.64 173.82,22.40 174.64,24.24 176.28,26.08 177.92,27.00 181.20,27.00 182.84,26.08 184.48,24.24 185.30,22.40M199.70,14.12 199.70,27.00M199.70,16.88 198.06,15.04 196.42,14.12 193.96,14.12 192.32,15.04 190.68,16.88 189.86,19.64 189.86,21.48 190.68,24.24 192.32,26.08 193.96,27.00 196.42,27.00 198.06,26.08 199.70,24.24M205.93,14.12 205.93,27.00M205.93,19.64 206.75,16.88 208.39,15.04 210.03,14.12 212.49,14.12M215.54,7.68 216.36,8.60 217.18,7.68 216.36,6.76 215.54,7.68M216.36,14.12 216.36,27.00M222.78,7.68 222.78,27.00M222.78,16.88 224.42,15.04 226.06,14.12 228.52,14.12 230.16,15.04 231.80,16.88 232.62,19.64 232.62,21.48 231.80,24.24 230.16,26.08 228.52,27.00 226.06,27.00 224.42,26.08 222.78,24.24M238.03,7.68 238.03,27.00M238.03,16.88 239.67,15.04 241.31,14.12 243.77,14.12 245.41,15.04 247.05,16.88 247.87,19.64 247.87,21.48 247.05,24.24 245.41,26.08 243.77,27.00 241.31,27.00 239.67,26.08 238.03,24.24M252.46,19.64 262.30,19.64 262.30,17.80 261.48,15.96 260.66,15.04 259.02,14.12 256.56,14.12 254.92,15.04 253.28,16.88 252.46,19.64 252.46,21.48 253.28,24.24 254.92,26.08 256.56,27.00 259.02,27.00 260.66,26.08 262.30,24.24M276.75,14.12 276.75,27.00M276.75,16.88 275.11,15.04 273.47,14.12 271.01,14.12 269.37,15.04 267.73,16.88 266.91,19.64 266.91,21.48 267.73,24.24 269.37,26.08 271.01,27.00 273.47,27.00 275.11,26.08 276.75,24.24M282.98,14.12 282.98,27.00M282.98,17.80 285.44,15.04 287.08,14.12 289.54,14.12 291.18,15.04 292.00,17.80 292.00,27.00M310.50,7.68 310.50,27.00M316.93,14.12 316.93,27.00M316.93,17.80 319.39,15.04 321.03,14.12 323.49,14.12 325.13,15.04 325.95,17.80 325.95,27.00M340.40,16.88 339.58,15.04 337.12,14.12 334.66,14.12 332.20,15.04 331.38,16.88 332.20,18.72 333.84,19.64 337.94,20.56 339.58,21.48 340.40,23.32 340.40,24.24 339.58,26.08 337.12,27.00 334.66,27.00 332.20,26.08 331.38,24.24M346.68,7.68 346.68,23.32 347.50,26.08 349.14,27.00 350.78,27.00M344.22,14.12 349.96,14.12M354.68,7.68 355.50,8.60 356.32,7.68 355.50,6.76 354.68,7.68M355.50,14.12 355.50,27.00M362.75,7.68 362.75,23.32 363.57,26.08 365.21,27.00 366.85,27.00M360.29,14.12 366.03,14.12M371.57,14.12 371.57,23.32 372.39,26.08 374.03,27.00 376.49,27.00 378.13,26.08 380.59,23.32M380.59,14.12 380.59,27.00M387.66,7.68 387.66,23.32 388.48,26.08 390.12,27.00 391.76,27.00M385.20,14.12 390.94,14.12M395.66,19.64 405.50,19.64 405.50,17.80 404.68,15.96 403.86,15.04 402.22,14.12 399.76,14.12 398.12,15.04 396.48,16.88 395.66,19.64 395.66,21.48 396.48,24.24 398.12,26.08 399.76,27.00 402.22,27.00 403.86,26.08 405.50,24.24M432.06,7.68 430.42,7.68 428.78,8.60 427.96,11.36 427.96,27.00M425.50,14.12 431.24,14.12M437.99,14.12 436.35,15.04 434.71,16.88 433.89,19.64 433.89,21.48 434.71,24.24 436.35,26.08 437.99,27.00 440.45,27.00 442.09,26.08 443.73,24.24 444.55,21.48 444.55,19.64 443.73,16.88 442.09,15.04 440.45,14.12 437.99,14.12M446.69,14.12 446.69,27.00M446.69,19.64 447.51,16.88 449.15,15.04 450.79,14.12 453.25,14.12M473.00,7.68 473.00,27.00M473.00,7.68 479.56,27.00M486.12,7.68 479.56,27.00M486.12,7.68 486.12,27.00M491.47,19.64 501.31,19.64 501.31,17.80 500.49,15.96 499.67,15.04 498.03,14.12 495.57,14.12 493.93,15.04 492.29,16.88 491.47,19.64 491.47,21.48 492.29,24.24 493.93,26.08 495.57,27.00 498.03,27.00 499.67,26.08 501.31,24.24M507.57,7.68 507.57,23.32 508.39,26.08 510.03,27.00 511.67,27.00M505.11,14.12 510.85,14.12M515.57,19.64 525.41,19.64 525.41,17.80 524.59,15.96 523.77,15.04 522.13,14.12 519.67,14.12 518.03,15.04 516.39,16.88 515.57,19.64 515.57,21.48 516.39,24.24 518.03,26.08 519.67,27.00 522.13,27.00 523.77,26.08 525.41,24.24M534.14,14.12 532.50,15.04 530.86,16.88 530.04,19.64 530.04,21.48 530.86,24.24 532.50,26.08 534.14,27.00 536.60,27.00 538.24,26.08 539.88,24.24 540.70,21.48 540.70,19.64 539.88,16.88 538.24,15.04 536.60,14.12 534.14,14.12M546.12,14.12 546.12,27.00M546.12,19.64 546.94,16.88 548.58,15.04 550.22,14.12 552.68,14.12M559.85,14.12 558.21,15.04 556.57,16.88 555.75,19.64 555.75,21.48 556.57,24.24 558.21,26.08 559.85,27.00 562.31,27.00 563.95,26.08 565.59,24.24 566.41,21.48 566.41,19.64 565.59,16.88 563.95,15.04 562.31,14.12 559.85,14.12M571.84,7.68 571.84,27.00M581.55,14.12 579.91,15.04 578.27,16.88 577.45,19.64 577.45,21.48 578.27,24.24 579.91,26.08 581.55,27.00 584.01,27.00 585.65,26.08 587.29,24.24 588.11,21.48 588.11,19.64 587.29,16.88 585.65,15.04 584.01,14.12 581.55,14.12M602.55,14.12 602.55,28.84 601.73,31.60 600.91,32.52 599.27,33.44 596.81,33.44 595.17,32.52M602.55,16.88 600.91,15.04 599.27,14.12 596.81,14.12 595.17,15.04 593.53,16.88 592.71,19.64 592.71,21.48 593.53,24.24 595.17,26.08 596.81,27.00 599.27,27.00 600.91,26.08 602.55,24.24M607.16,14.12 612.08,27.00M617.00,14.12 612.08,27.00 610.44,30.68 608.80,32.52 607.16,33.44 606.34,33.44M646.59,14.12 646.59,27.00M646.59,16.88 644.95,15.04 643.31,14.12 640.85,14.12 639.21,15.04 637.57,16.88 636.75,19.64 636.75,21.48 637.57,24.24 639.21,26.08 640.85,27.00 643.31,27.00 644.95,26.08 646.59,24.24M653.40,14.12 653.40,27.00M653.40,17.80 655.86,15.04 657.50,14.12 659.96,14.12 661.60,15.04 662.42,17.80 662.42,27.00M678.25,7.68 678.25,27.00M678.25,16.88 676.61,15.04 674.97,14.12 672.51,14.12 670.87,15.04 669.23,16.88 668.41,19.64 668.41,21.48 669.23,24.24 670.87,26.08 672.51,27.00 674.97,27.00 676.61,26.08 678.25,24.24M696.75,7.68 696.75,27.00M708.23,7.68 708.23,27.00M696.75,16.88 708.23,16.88M712.76,14.12 717.68,27.00M722.60,14.12 717.68,27.00 716.04,30.68 714.40,32.52 712.76,33.44 711.94,33.44M736.25,7.68 736.25,27.00M736.25,16.88 734.61,15.04 732.97,14.12 730.51,14.12 728.87,15.04 727.23,16.88 726.41,19.64 726.41,21.48 727.23,24.24 728.87,26.08 730.51,27.00 732.97,27.00 734.61,26.08 736.25,24.24M742.48,14.12 742.48,27.00M742.48,19.64 743.30,16.88 744.94,15.04 746.58,14.12 749.04,14.12M756.19,14.12 754.55,15.04 752.91,16.88 752.09,19.64 752.09,21.48 752.91,24.24 754.55,26.08 756.19,27.00 758.65,27.00 760.29,26.08 761.93,24.24 762.75,21.48 762.75,19.64 761.93,16.88 760.29,15.04 758.65,14.12 756.19,14.12M768.15,7.68 768.15,27.00M777.85,14.12 776.21,15.04 774.57,16.88 773.75,19.64 773.75,21.48 774.57,24.24 776.21,26.08 777.85,27.00 780.31,27.00 781.95,26.08 783.59,24.24 784.41,21.48 784.41,19.64 783.59,16.88 781.95,15.04 780.31,14.12 777.85,14.12M798.83,14.12 798.83,28.84 798.01,31.60 797.19,32.52 795.55,33.44 793.09,33.44 791.45,32.52M798.83,16.88 797.19,15.04 795.55,14.12 793.09,14.12 791.45,15.04 789.81,16.88 788.99,19.64 788.99,21.48 789.81,24.24 791.45,26.08 793.09,27.00 795.55,27.00 797.19,26.08 798.83,24.24M803.41,14.12 808.33,27.00M813.25,14.12 808.33,27.00 806.69,30.68 805.05,32.52 803.41,33.44 802.59,33.44M56.75,31.70 56.75,53.90M56.75,31.70 62.98,31.70 65.65,32.76 67.43,34.87 68.32,36.99 69.21,40.16 69.21,45.44 68.32,48.61 67.43,50.73 65.65,52.84 62.98,53.90 56.75,53.90M75.14,31.70 76.03,32.76 76.92,31.70 76.03,30.65 75.14,31.70M76.03,39.10 76.03,53.90M92.28,42.27 91.39,40.16 88.72,39.10 86.05,39.10 83.38,40.16 82.49,42.27 83.38,44.39 85.16,45.44 89.61,46.50 91.39,47.56 92.28,49.67 92.28,50.73 91.39,52.84 88.72,53.90 86.05,53.90 83.38,52.84 82.49,50.73M108.77,39.10 108.77,53.90M108.77,42.27 106.99,40.16 105.21,39.10 102.54,39.10 100.76,40.16 98.98,42.27 98.09,45.44 98.09,47.56 98.98,50.73 100.76,52.84 102.54,53.90 105.21,53.90 106.99,52.84 108.77,50.73M126.22,39.10 126.22,56.01 125.33,59.19 124.44,60.24 122.66,61.30 119.99,61.30 118.21,60.24M126.22,42.27 124.44,40.16 122.66,39.10 119.99,39.10 118.21,40.16 116.43,42.27 115.54,45.44 115.54,47.56 116.43,50.73 118.21,52.84 119.99,53.90 122.66,53.90 124.44,52.84 126.22,50.73M143.66,39.10 143.66,56.01 142.77,59.19 141.88,60.24 140.10,61.30 137.43,61.30 135.65,60.24M143.66,42.27 141.88,40.16 140.10,39.10 137.43,39.10 135.65,40.16 133.87,42.27 132.98,45.44 132.98,47.56 133.87,50.73 135.65,52.84 137.43,53.90 140.10,53.90 141.88,52.84 143.66,50.73M151.32,39.10 151.32,53.90M151.32,45.44 152.21,42.27 153.99,40.16 155.77,39.10 158.44,39.10M162.36,45.44 173.04,45.44 173.04,43.33 172.15,41.22 171.26,40.16 169.48,39.10 166.81,39.10 165.03,40.16 163.25,42.27 162.36,45.44 162.36,47.56 163.25,50.73 165.03,52.84 166.81,53.90 169.48,53.90 171.26,52.84 173.04,50.73M189.57,39.10 189.57,56.01 188.68,59.19 187.79,60.24 186.01,61.30 183.34,61.30 181.56,60.24M189.57,42.27 187.79,40.16 186.01,39.10 183.34,39.10 181.56,40.16 179.78,42.27 178.89,45.44 178.89,47.56 179.78,50.73 181.56,52.84 183.34,53.90 186.01,53.90 187.79,52.84 189.57,50.73M207.01,39.10 207.01,53.90M207.01,42.27 205.23,40.16 203.45,39.10 200.78,39.10 199.00,40.16 197.22,42.27 196.33,45.44 196.33,47.56 197.22,50.73 199.00,52.84 200.78,53.90 203.45,53.90 205.23,52.84 207.01,50.73M215.56,31.70 215.56,49.67 216.45,52.84 218.23,53.90 220.01,53.90M212.89,39.10 219.12,39.10M224.79,45.44 235.47,45.44 235.47,43.33 234.58,41.22 233.69,40.16 231.91,39.10 229.24,39.10 227.46,40.16 225.68,42.27 224.79,45.44 224.79,47.56 225.68,50.73 227.46,52.84 229.24,53.90 231.91,53.90 233.69,52.84 235.47,50.73M252.00,31.70 252.00,53.90M252.00,42.27 250.22,40.16 248.44,39.10 245.77,39.10 243.99,40.16 242.21,42.27 241.32,45.44 241.32,47.56 242.21,50.73 243.99,52.84 245.77,53.90 248.44,53.90 250.22,52.84 252.00,50.73M273.00,39.10 273.00,61.30M273.00,42.27 274.78,40.16 276.56,39.10 279.23,39.10 281.01,40.16 282.79,42.27 283.68,45.44 283.68,47.56 282.79,50.73 281.01,52.84 279.23,53.90 276.56,53.90 274.78,52.84 273.00,50.73M290.31,39.10 290.31,53.90M290.31,45.44 291.20,42.27 292.99,40.16 294.76,39.10 297.44,39.10M301.27,45.44 311.95,45.44 311.95,43.33 311.06,41.22 310.17,40.16 308.39,39.10 305.72,39.10 303.94,40.16 302.16,42.27 301.27,45.44 301.27,47.56 302.16,50.73 303.94,52.84 305.72,53.90 308.39,53.90 310.17,52.84 311.95,50.73M328.36,42.27 326.58,40.16 324.80,39.10 322.13,39.10 320.35,40.16 318.57,42.27 317.68,45.44 317.68,47.56 318.57,50.73 320.35,52.84 322.13,53.90 324.80,53.90 326.58,52.84 328.36,50.73M334.08,31.70 334.97,32.76 335.86,31.70 334.97,30.65 334.08,31.70M334.97,39.10 334.97,53.90M342.26,39.10 342.26,61.30M342.26,42.27 344.04,40.16 345.82,39.10 348.49,39.10 350.27,40.16 352.05,42.27 352.94,45.44 352.94,47.56 352.05,50.73 350.27,52.84 348.49,53.90 345.82,53.90 344.04,52.84 342.26,50.73M358.68,31.70 359.57,32.76 360.46,31.70 359.57,30.65 358.68,31.70M359.57,39.10 359.57,53.90M367.76,31.70 367.76,49.67 368.65,52.84 370.43,53.90 372.21,53.90M365.09,39.10 371.32,39.10M387.59,39.10 387.59,53.90M387.59,42.27 385.81,40.16 384.03,39.10 381.36,39.10 379.58,40.16 377.80,42.27 376.91,45.44 376.91,47.56 377.80,50.73 379.58,52.84 381.36,53.90 384.03,53.90 385.81,52.84 387.59,50.73M396.01,31.70 396.01,49.67 396.90,52.84 398.68,53.90 400.46,53.90M393.34,39.10 399.57,39.10M405.16,31.70 406.05,32.76 406.94,31.70 406.05,30.65 405.16,31.70M406.05,39.10 406.05,53.90M416.90,39.10 415.12,40.16 413.34,42.27 412.45,45.44 412.45,47.56 413.34,50.73 415.12,52.84 416.90,53.90 419.57,53.90 421.35,52.84 423.13,50.73 424.02,47.56 424.02,45.44 423.13,42.27 421.35,40.16 419.57,39.10 416.90,39.10M430.66,39.10 430.66,53.90M430.66,43.33 433.33,40.16 435.11,39.10 437.78,39.10 439.56,40.16 440.45,43.33 440.45,53.90M454.20,27.48 452.42,29.59 450.64,32.76 448.86,36.99 447.97,42.27 447.97,46.50 448.86,51.79 450.64,56.01 452.42,59.19 454.20,61.30M460.73,39.10 460.73,53.90M460.73,43.33 463.40,40.16 465.18,39.10 467.85,39.10 469.63,40.16 470.52,43.33 470.52,53.90M470.52,43.33 473.19,40.16 474.97,39.10 477.64,39.10 479.42,40.16 480.31,43.33 480.31,53.90M488.07,39.10 488.07,53.90M488.07,43.33 490.74,40.16 492.52,39.10 495.19,39.10 496.97,40.16 497.86,43.33 497.86,53.90M497.86,43.33 500.53,40.16 502.31,39.10 504.98,39.10 506.76,40.16 507.65,43.33 507.65,53.90M514.52,27.48 516.30,29.59 518.08,32.76 519.86,36.99 520.75,42.27 520.75,46.50 519.86,51.79 518.08,56.01 516.30,59.19 514.52,61.30M556.71,34.87 554.93,32.76 552.26,31.70 548.70,31.70 546.03,32.76 544.25,34.87 544.25,36.99 545.14,39.10 546.03,40.16 547.81,41.22 553.15,43.33 554.93,44.39 555.82,45.44 556.71,47.56 556.71,50.73 554.93,52.84 552.26,53.90 548.70,53.90 546.03,52.84 544.25,50.73M561.23,31.70 568.35,53.90M575.47,31.70 568.35,53.90M593.25,36.99 592.36,34.87 590.58,32.76 588.80,31.70 585.24,31.70 583.46,32.76 581.68,34.87 580.79,36.99 579.90,40.16 579.90,45.44 580.79,48.61 581.68,50.73 583.46,52.84 585.24,53.90 588.80,53.90 590.58,52.84 592.36,50.73 593.25,48.61 593.25,45.44M588.80,45.44 593.25,45.44M609.25,31.70 616.37,53.90M623.49,31.70 616.37,53.90M639.64,39.10 639.64,53.90M639.64,42.27 637.86,40.16 636.08,39.10 633.41,39.10 631.63,40.16 629.85,42.27 628.96,45.44 628.96,47.56 629.85,50.73 631.63,52.84 633.41,53.90 636.08,53.90 637.86,52.84 639.64,50.73M648.77,31.70 648.77,53.90M655.85,31.70 656.74,32.76 657.63,31.70 656.74,30.65 655.85,31.70M656.74,39.10 656.74,53.90M674.50,31.70 674.50,53.90M674.50,42.27 672.72,40.16 670.94,39.10 668.27,39.10 666.49,40.16 664.71,42.27 663.82,45.44 663.82,47.56 664.71,50.73 666.49,52.84 668.27,53.90 670.94,53.90 672.72,52.84 674.50,50.73M698.00,35.93 699.78,34.87 702.45,31.70 702.45,53.90M726.77,31.70 717.87,53.90M714.31,31.70 726.77,31.70M745.75,31.70 733.29,53.90M733.29,31.70 745.75,31.70M733.29,53.90 745.75,53.90M767.64,36.99 767.64,35.93 768.53,33.82 769.42,32.76 771.20,31.70 774.76,31.70 776.54,32.76 777.43,33.82 778.32,35.93 778.32,38.05 777.43,40.16 775.65,43.33 766.75,53.90 779.21,53.90M796.68,34.87 795.79,32.76 793.12,31.70 791.34,31.70 788.67,32.76 786.89,35.93 786.00,41.22 786.00,46.50 786.89,50.73 788.67,52.84 791.34,53.90 792.23,53.90 794.90,52.84 796.68,50.73 797.57,47.56 797.57,46.50 796.68,43.33 794.90,41.22 792.23,40.16 791.34,40.16 788.67,41.22 786.89,43.33 786.00,46.50M818.61,27.48 802.59,61.30M826.35,35.93 828.13,34.87 830.80,31.70 830.80,53.90M847.38,31.70 844.71,32.76 842.93,35.93 842.04,41.22 842.04,44.39 842.93,49.67 844.71,52.84 847.38,53.90 849.16,53.90 851.83,52.84 853.61,49.67 854.50,44.39 854.50,41.22 853.61,35.93 851.83,32.76 849.16,31.70 847.38,31.70M876.39,36.99 876.39,35.93 877.28,33.82 878.17,32.76 879.95,31.70 883.51,31.70 885.29,32.76 886.18,33.82 887.07,35.93 887.07,38.05 886.18,40.16 884.40,43.33 875.50,53.90 887.96,53.90M899.39,31.70 896.72,32.76 894.94,35.93 894.05,41.22 894.05,44.39 894.94,49.67 896.72,52.84 899.39,53.90 901.17,53.90 903.84,52.84 905.62,49.67 906.51,44.39 906.51,41.22 905.62,35.93 903.84,32.76 901.17,31.70 899.39,31.70M915.27,35.93 917.05,34.87 919.72,31.70 919.72,53.90M940.05,31.70 931.15,46.50 944.50,46.50M940.05,31.70 940.05,53.90" fill="none" stroke="#000" stroke-width="1.5" stroke-linecap="round" stroke-linejoin="round" shape-rendering="auto"/>
<g stroke="#000" stroke-width="1">
<rect x="822.5" y="116.00" width="18.0" height="35.62" fill="#fa3c3c"/>
<rect x="822.5" y="151.62" width="18.0" height="35.62" fill="#f50000"/>
<rect x="822.5" y="187.25" width="18.0" height="35.62" fill="#ffaaaa"/>
<rect x="822.5" y="222.88" width="18.0" height="35.62" fill="#f08228"/>
<rect x="822.5" y="258.50" width="18.0" height="35.62" fill="#e6af2d"/>
<rect x="822.5" y="294.12" width="18.0" height="35.62" fill="#e6dc32"/>
<rect x="822.5" y="329.75" width="18.0" height="35.62" fill="#a0e632"/>
<rect x="822.5" y="365.38" width="18.0" height="35.62" fill="#00dc00"/>
<rect x="822.5" y="401.00" width="18.0" height="35.62" fill="#00d28c"/>
<rect x="822.5" y="436.62" width="18.0" height="35.62" fill="#00c8c8"/>
<rect x="822.5" y="472.25" width="18.0" height="35.62" fill="#00a0ff"/>
<rect x="822.5" y="507.88" width="18.0" height="35.62" fill="#1e3cff"/>
<rect x="822.5" y="543.50" width="18.0" height="35.62" fill="#5028ff"/>
<rect x="822.5" y="579.12" width="18.0" height="35.62" fill="#8200dc"/>
<rect x="822.5" y="614.75" width="18.0" height="35.62" fill="#a000c8"/>
<rect x="822.5" y="650.38" width="18.0" height="35.62" fill="#808080"/>
<path d="M822.5,116 L831.5,80 L840.5,116Z" fill="#f00082"/>
<path d="M822.5,686 L831.5,721 L840.5,686Z" fill="#fff"/>
</g>
<path d="M848.00,112.98 849.14,112.44 850.85,110.79 850.85,122.30M860.77,110.79 859.06,111.34 857.92,112.98 857.35,115.72 857.35,117.37 857.92,120.11 859.06,121.75 860.77,122.30 861.91,122.30 863.62,121.75 864.76,120.11 865.33,117.37 865.33,115.72 864.76,112.98 863.62,111.34 861.91,110.79 860.77,110.79M871.83,110.79 870.12,111.34 868.98,112.98 868.41,115.72 868.41,117.37 868.98,120.11 870.12,121.75 871.83,122.30 872.97,122.30 874.68,121.75 875.82,120.11 876.39,117.37 876.39,115.72 875.82,112.98 874.68,111.34 872.97,110.79 871.83,110.79M855.41,150.25 854.84,151.90 853.70,152.99 851.99,153.54 851.42,153.54 849.71,152.99 848.57,151.90 848.00,150.25 848.00,149.71 848.57,148.06 849.71,146.97 851.42,146.42 851.99,146.42 853.70,146.97 854.84,148.06 855.41,150.25 855.41,152.99 854.84,155.73 853.70,157.38 851.99,157.93 850.85,157.93 849.14,157.38 848.57,156.28M862.48,146.42 860.77,146.97 859.63,148.61 859.06,151.35 859.06,152.99 859.63,155.73 860.77,157.38 862.48,157.93 863.62,157.93 865.33,157.38 866.47,155.73 867.04,152.99 867.04,151.35 866.47,148.61 865.33,146.97 863.62,146.42 862.48,146.42M850.85,182.04 849.14,182.59 848.57,183.69 848.57,184.78 849.14,185.88 850.28,186.43 852.56,186.97 854.27,187.52 855.41,188.62 855.98,189.71 855.98,191.36 855.41,192.45 854.84,193.00 853.13,193.55 850.85,193.55 849.14,193.00 848.57,192.45 848.00,191.36 848.00,189.71 848.57,188.62 849.71,187.52 851.42,186.97 853.70,186.43 854.84,185.88 855.41,184.78 855.41,183.69 854.84,182.59 853.13,182.04 850.85,182.04M862.48,182.04 860.77,182.59 859.63,184.23 859.06,186.97 859.06,188.62 859.63,191.36 860.77,193.00 862.48,193.55 863.62,193.55 865.33,193.00 866.47,191.36 867.04,188.62 867.04,186.97 866.47,184.23 865.33,182.59 863.62,182.04 862.48,182.04M855.98,217.67 850.28,229.18M848.00,217.67 855.98,217.67M862.48,217.67 860.77,218.22 859.63,219.86 859.06,222.60 859.06,224.24 859.63,226.98 860.77,228.63 862.48,229.18 863.62,229.18 865.33,228.63 866.47,226.98 867.04,224.24 867.04,222.60 866.47,219.86 865.33,218.22 863.62,217.67 862.48,217.67M854.84,254.94 854.27,253.84 852.56,253.29 851.42,253.29 849.71,253.84 848.57,255.48 848.00,258.22 848.00,260.96 848.57,263.16 849.71,264.25 851.42,264.80 851.99,264.80 853.70,264.25 854.84,263.16 855.41,261.51 855.41,260.96 854.84,259.32 853.70,258.22 851.99,257.68 851.42,257.68 849.71,258.22 848.57,259.32 848.00,260.96M861.91,253.29 860.20,253.84 859.06,255.48 858.49,258.22 858.49,259.87 859.06,262.61 860.20,264.25 861.91,264.80 863.05,264.80 864.76,264.25 865.90,262.61 866.47,259.87 866.47,258.22 865.90,255.48 864.76,253.84 863.05,253.29 861.91,253.29M854.84,288.92 849.14,288.92 848.57,293.85 849.14,293.30 850.85,292.75 852.56,292.75 854.27,293.30 855.41,294.40 855.98,296.04 855.98,297.14 855.41,298.78 854.27,299.88 852.56,300.43 850.85,300.43 849.14,299.88 848.57,299.33 848.00,298.23M862.48,288.92 860.77,289.47 859.63,291.11 859.06,293.85 859.06,295.49 859.63,298.23 860.77,299.88 862.48,300.43 863.62,300.43 865.33,299.88 866.47,298.23 867.04,295.49 867.04,293.85 866.47,291.11 865.33,289.47 863.62,288.92 862.48,288.92M853.70,324.54 848.00,332.21 856.55,332.21M853.70,324.54 853.70,336.05M862.48,324.54 860.77,325.09 859.63,326.73 859.06,329.47 859.06,331.12 859.63,333.86 860.77,335.50 862.48,336.05 863.62,336.05 865.33,335.50 866.47,333.86 867.04,331.12 867.04,329.47 866.47,326.73 865.33,325.09 863.62,324.54 862.48,324.54M849.14,360.17 855.41,360.17 851.99,364.55 853.70,364.55 854.84,365.10 855.41,365.65 855.98,367.29 855.98,368.39 855.41,370.03 854.27,371.13 852.56,371.68 850.85,371.68 849.14,371.13 848.57,370.58 848.00,369.48M865.90,360.17 860.20,360.17 859.63,365.10 860.20,364.55 861.91,364.00 863.62,364.00 865.33,364.55 866.47,365.65 867.04,367.29 867.04,368.39 866.47,370.03 865.33,371.13 863.62,371.68 861.91,371.68 860.20,371.13 859.63,370.58 859.06,369.48M849.14,395.79 855.41,395.79 851.99,400.18 853.70,400.18 854.84,400.72 855.41,401.27 855.98,402.92 855.98,404.01 855.41,405.66 854.27,406.75 852.56,407.30 850.85,407.30 849.14,406.75 848.57,406.20 848.00,405.11M862.48,395.79 860.77,396.34 859.63,397.98 859.06,400.72 859.06,402.37 859.63,405.11 860.77,406.75 862.48,407.30 863.62,407.30 865.33,406.75 866.47,405.11 867.04,402.37 867.04,400.72 866.47,397.98 865.33,396.34 863.62,395.79 862.48,395.79M848.57,434.16 848.57,433.61 849.14,432.51 849.71,431.97 850.85,431.42 853.13,431.42 854.27,431.97 854.84,432.51 855.41,433.61 855.41,434.70 854.84,435.80 853.70,437.44 848.00,442.93 855.98,442.93M865.90,431.42 860.20,431.42 859.63,436.35 860.20,435.80 861.91,435.25 863.62,435.25 865.33,435.80 866.47,436.90 867.04,438.54 867.04,439.64 866.47,441.28 865.33,442.38 863.62,442.93 861.91,442.93 860.20,442.38 859.63,441.83 859.06,440.73M848.57,469.78 848.57,469.23 849.14,468.14 849.71,467.59 850.85,467.04 853.13,467.04 854.27,467.59 854.84,468.14 855.41,469.23 855.41,470.33 854.84,471.43 853.70,473.07 848.00,478.55 855.98,478.55M862.48,467.04 860.77,467.59 859.63,469.23 859.06,471.97 859.06,473.62 859.63,476.36 860.77,478.00 862.48,478.55 863.62,478.55 865.33,478.00 866.47,476.36 867.04,473.62 867.04,471.97 866.47,469.23 865.33,467.59 863.62,467.04 862.48,467.04M848.00,504.86 849.14,504.31 850.85,502.67 850.85,514.17M864.19,502.67 858.49,502.67 857.92,507.60 858.49,507.05 860.20,506.50 861.91,506.50 863.62,507.05 864.76,508.15 865.33,509.79 865.33,510.89 864.76,512.53 863.62,513.63 861.91,514.17 860.20,514.17 858.49,513.63 857.92,513.08 857.35,511.98M848.00,540.48 849.14,539.94 850.85,538.29 850.85,549.80M860.77,538.29 859.06,538.84 857.92,540.48 857.35,543.22 857.35,544.87 857.92,547.61 859.06,549.25 860.77,549.80 861.91,549.80 863.62,549.25 864.76,547.61 865.33,544.87 865.33,543.22 864.76,540.48 863.62,538.84 861.91,538.29 860.77,538.29M854.84,573.92 849.14,573.92 848.57,578.85 849.14,578.30 850.85,577.75 852.56,577.75 854.27,578.30 855.41,579.40 855.98,581.04 855.98,582.14 855.41,583.78 854.27,584.88 852.56,585.42 850.85,585.42 849.14,584.88 848.57,584.33 848.00,583.23M848.57,612.28 848.57,611.73 849.14,610.64 849.71,610.09 850.85,609.54 853.13,609.54 854.27,610.09 854.84,610.64 855.41,611.73 855.41,612.83 854.84,613.93 853.70,615.57 848.00,621.05 855.98,621.05M848.00,647.36 849.14,646.81 850.85,645.17 850.85,656.67M851.42,680.79 849.71,681.34 848.57,682.98 848.00,685.72 848.00,687.37 848.57,690.11 849.71,691.75 851.42,692.30 852.56,692.30 854.27,691.75 855.41,690.11 855.98,687.37 855.98,685.72 855.41,682.98 854.27,681.34 852.56,680.79 851.42,680.79M860.20,691.20 859.63,691.75 860.20,692.30 860.77,691.75 860.20,691.20M871.43,680.79 865.73,680.79 865.16,685.72 865.73,685.18 867.44,684.63 869.15,684.63 870.86,685.18 872.00,686.27 872.57,687.92 872.57,689.01 872.00,690.66 870.86,691.75 869.15,692.30 867.44,692.30 865.73,691.75 865.16,691.20 864.59,690.11" fill="none" stroke="#000" stroke-width="1.25" stroke-linecap="round" stroke-linejoin="round" shape-rendering="auto"/>
</svg></body></html>
